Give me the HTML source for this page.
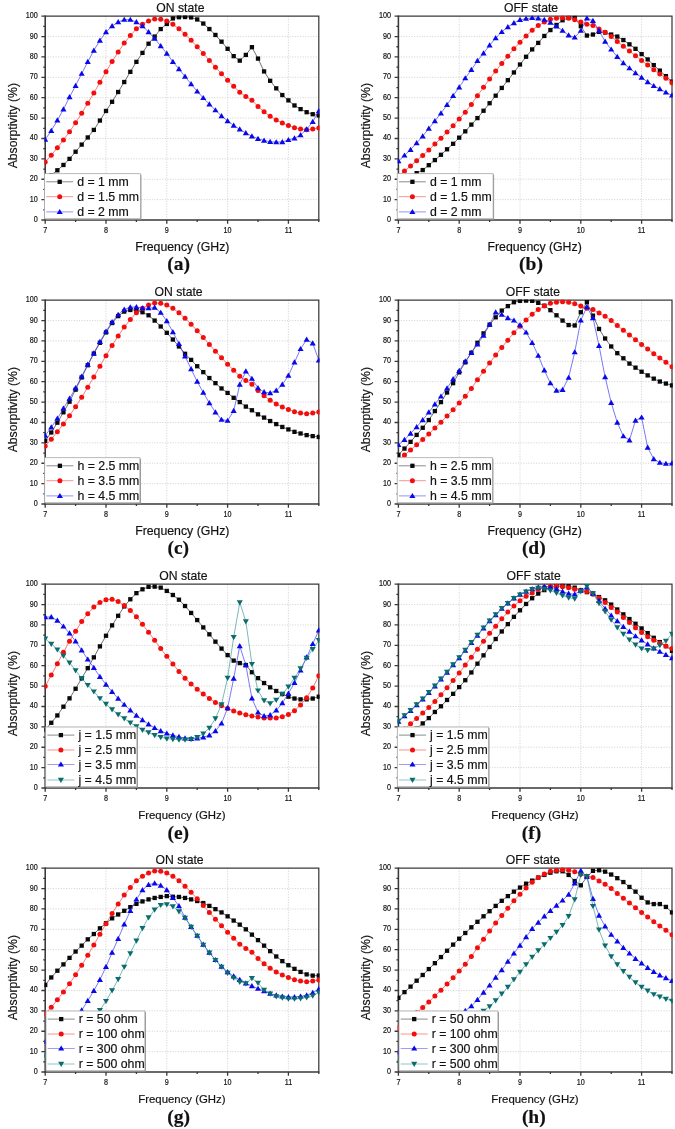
<!DOCTYPE html>
<html lang="en"><head><meta charset="utf-8"><title>Absorptivity parametric study</title>
<style>
html,body{margin:0;padding:0;background:#fff}
body{width:675px;height:1129px;overflow:hidden}
svg text{font-family:"Liberation Sans", Arial, sans-serif;stroke:#111;stroke-width:0.18px;paint-order:stroke}
svg{will-change:transform;opacity:0.999}
</style></head><body>
<svg width="675" height="1129" viewBox="0 0 675 1129" style="display:block">
<rect width="675" height="1129" fill="#fff"/>
<g>
<path d="M45.20 199.62H318.80M45.20 179.24H318.80M45.20 158.86H318.80M45.20 138.48H318.80M45.20 118.10H318.80M45.20 97.72H318.80M45.20 77.34H318.80M45.20 56.96H318.80M45.20 36.58H318.80M106.00 16.20V220.00M166.80 16.20V220.00M227.60 16.20V220.00M288.40 16.20V220.00" stroke="#c6c6c6" stroke-width="0.75" stroke-dasharray="1.1 1.5" fill="none"/>
<path d="M45.20 16.20H318.80V220.00" fill="none" stroke="#3a3a3a" stroke-width="1.25"/>
<path d="M45.20 15.60V220.00H319.40" fill="none" stroke="#383838" stroke-width="1.55"/>
<clipPath id="cp0"><path d="M44.40 15.40H319.60V220.80H46.20V173.70H44.40Z"/></clipPath>
<g clip-path="url(#cp0)">
<polyline points="45.20,180.26 51.28,175.16 57.36,170.27 63.44,164.97 69.52,158.86 75.60,151.73 81.68,144.59 87.76,137.46 93.84,129.92 99.92,120.55 106.00,110.97 112.08,101.80 118.16,92.01 124.24,82.03 130.32,71.84 136.40,61.85 142.48,52.88 148.56,43.71 154.64,36.58 160.72,29.04 166.80,23.94 172.88,18.44 178.96,17.22 185.04,17.02 191.12,17.42 197.20,19.46 203.28,23.54 209.36,29.04 215.44,34.95 221.52,41.67 227.60,48.81 233.68,56.14 239.76,60.63 245.84,54.92 251.92,47.18 258.00,58.59 264.08,71.43 270.16,80.80 276.24,88.35 282.32,95.07 288.40,100.37 294.48,105.46 300.56,109.13 306.64,112.19 312.72,114.23 318.80,115.45" fill="none" stroke="#222222" stroke-width="0.65"/>
<rect x="43.05" y="178.11" width="4.30" height="4.30" fill="#080808"/>
<rect x="49.13" y="173.01" width="4.30" height="4.30" fill="#080808"/>
<rect x="55.21" y="168.12" width="4.30" height="4.30" fill="#080808"/>
<rect x="61.29" y="162.82" width="4.30" height="4.30" fill="#080808"/>
<rect x="67.37" y="156.71" width="4.30" height="4.30" fill="#080808"/>
<rect x="73.45" y="149.58" width="4.30" height="4.30" fill="#080808"/>
<rect x="79.53" y="142.44" width="4.30" height="4.30" fill="#080808"/>
<rect x="85.61" y="135.31" width="4.30" height="4.30" fill="#080808"/>
<rect x="91.69" y="127.77" width="4.30" height="4.30" fill="#080808"/>
<rect x="97.77" y="118.40" width="4.30" height="4.30" fill="#080808"/>
<rect x="103.85" y="108.82" width="4.30" height="4.30" fill="#080808"/>
<rect x="109.93" y="99.65" width="4.30" height="4.30" fill="#080808"/>
<rect x="116.01" y="89.86" width="4.30" height="4.30" fill="#080808"/>
<rect x="122.09" y="79.88" width="4.30" height="4.30" fill="#080808"/>
<rect x="128.17" y="69.69" width="4.30" height="4.30" fill="#080808"/>
<rect x="134.25" y="59.70" width="4.30" height="4.30" fill="#080808"/>
<rect x="140.33" y="50.73" width="4.30" height="4.30" fill="#080808"/>
<rect x="146.41" y="41.56" width="4.30" height="4.30" fill="#080808"/>
<rect x="152.49" y="34.43" width="4.30" height="4.30" fill="#080808"/>
<rect x="158.57" y="26.89" width="4.30" height="4.30" fill="#080808"/>
<rect x="164.65" y="21.79" width="4.30" height="4.30" fill="#080808"/>
<rect x="170.73" y="16.29" width="4.30" height="4.30" fill="#080808"/>
<rect x="176.81" y="15.07" width="4.30" height="4.30" fill="#080808"/>
<rect x="182.89" y="14.87" width="4.30" height="4.30" fill="#080808"/>
<rect x="188.97" y="15.27" width="4.30" height="4.30" fill="#080808"/>
<rect x="195.05" y="17.31" width="4.30" height="4.30" fill="#080808"/>
<rect x="201.13" y="21.39" width="4.30" height="4.30" fill="#080808"/>
<rect x="207.21" y="26.89" width="4.30" height="4.30" fill="#080808"/>
<rect x="213.29" y="32.80" width="4.30" height="4.30" fill="#080808"/>
<rect x="219.37" y="39.52" width="4.30" height="4.30" fill="#080808"/>
<rect x="225.45" y="46.66" width="4.30" height="4.30" fill="#080808"/>
<rect x="231.53" y="53.99" width="4.30" height="4.30" fill="#080808"/>
<rect x="237.61" y="58.48" width="4.30" height="4.30" fill="#080808"/>
<rect x="243.69" y="52.77" width="4.30" height="4.30" fill="#080808"/>
<rect x="249.77" y="45.03" width="4.30" height="4.30" fill="#080808"/>
<rect x="255.85" y="56.44" width="4.30" height="4.30" fill="#080808"/>
<rect x="261.93" y="69.28" width="4.30" height="4.30" fill="#080808"/>
<rect x="268.01" y="78.65" width="4.30" height="4.30" fill="#080808"/>
<rect x="274.09" y="86.20" width="4.30" height="4.30" fill="#080808"/>
<rect x="280.17" y="92.92" width="4.30" height="4.30" fill="#080808"/>
<rect x="286.25" y="98.22" width="4.30" height="4.30" fill="#080808"/>
<rect x="292.33" y="103.31" width="4.30" height="4.30" fill="#080808"/>
<rect x="298.41" y="106.98" width="4.30" height="4.30" fill="#080808"/>
<rect x="304.49" y="110.04" width="4.30" height="4.30" fill="#080808"/>
<rect x="310.57" y="112.08" width="4.30" height="4.30" fill="#080808"/>
<rect x="316.65" y="113.30" width="4.30" height="4.30" fill="#080808"/>
<polyline points="45.20,161.92 51.28,155.19 57.36,147.85 63.44,139.91 69.52,131.75 75.60,122.79 81.68,113.21 87.76,103.22 93.84,93.03 99.92,82.23 106.00,71.63 112.08,61.44 118.16,52.07 124.24,43.10 130.32,35.56 136.40,28.84 142.48,24.35 148.56,20.89 154.64,19.05 160.72,19.26 166.80,20.89 172.88,24.35 178.96,28.84 185.04,34.34 191.12,40.25 197.20,46.77 203.28,53.50 209.36,60.42 215.44,67.15 221.52,73.67 227.60,80.19 233.68,86.31 239.76,92.22 245.84,96.50 251.92,100.17 258.00,106.48 264.08,111.78 270.16,116.27 276.24,119.93 282.32,122.99 288.40,125.44 294.48,127.68 300.56,129.11 306.64,129.72 312.72,129.11 318.80,127.88" fill="none" stroke="#f53535" stroke-width="0.65"/>
<circle cx="45.20" cy="161.92" r="2.50" fill="#f30e0e"/>
<circle cx="51.28" cy="155.19" r="2.50" fill="#f30e0e"/>
<circle cx="57.36" cy="147.85" r="2.50" fill="#f30e0e"/>
<circle cx="63.44" cy="139.91" r="2.50" fill="#f30e0e"/>
<circle cx="69.52" cy="131.75" r="2.50" fill="#f30e0e"/>
<circle cx="75.60" cy="122.79" r="2.50" fill="#f30e0e"/>
<circle cx="81.68" cy="113.21" r="2.50" fill="#f30e0e"/>
<circle cx="87.76" cy="103.22" r="2.50" fill="#f30e0e"/>
<circle cx="93.84" cy="93.03" r="2.50" fill="#f30e0e"/>
<circle cx="99.92" cy="82.23" r="2.50" fill="#f30e0e"/>
<circle cx="106.00" cy="71.63" r="2.50" fill="#f30e0e"/>
<circle cx="112.08" cy="61.44" r="2.50" fill="#f30e0e"/>
<circle cx="118.16" cy="52.07" r="2.50" fill="#f30e0e"/>
<circle cx="124.24" cy="43.10" r="2.50" fill="#f30e0e"/>
<circle cx="130.32" cy="35.56" r="2.50" fill="#f30e0e"/>
<circle cx="136.40" cy="28.84" r="2.50" fill="#f30e0e"/>
<circle cx="142.48" cy="24.35" r="2.50" fill="#f30e0e"/>
<circle cx="148.56" cy="20.89" r="2.50" fill="#f30e0e"/>
<circle cx="154.64" cy="19.05" r="2.50" fill="#f30e0e"/>
<circle cx="160.72" cy="19.26" r="2.50" fill="#f30e0e"/>
<circle cx="166.80" cy="20.89" r="2.50" fill="#f30e0e"/>
<circle cx="172.88" cy="24.35" r="2.50" fill="#f30e0e"/>
<circle cx="178.96" cy="28.84" r="2.50" fill="#f30e0e"/>
<circle cx="185.04" cy="34.34" r="2.50" fill="#f30e0e"/>
<circle cx="191.12" cy="40.25" r="2.50" fill="#f30e0e"/>
<circle cx="197.20" cy="46.77" r="2.50" fill="#f30e0e"/>
<circle cx="203.28" cy="53.50" r="2.50" fill="#f30e0e"/>
<circle cx="209.36" cy="60.42" r="2.50" fill="#f30e0e"/>
<circle cx="215.44" cy="67.15" r="2.50" fill="#f30e0e"/>
<circle cx="221.52" cy="73.67" r="2.50" fill="#f30e0e"/>
<circle cx="227.60" cy="80.19" r="2.50" fill="#f30e0e"/>
<circle cx="233.68" cy="86.31" r="2.50" fill="#f30e0e"/>
<circle cx="239.76" cy="92.22" r="2.50" fill="#f30e0e"/>
<circle cx="245.84" cy="96.50" r="2.50" fill="#f30e0e"/>
<circle cx="251.92" cy="100.17" r="2.50" fill="#f30e0e"/>
<circle cx="258.00" cy="106.48" r="2.50" fill="#f30e0e"/>
<circle cx="264.08" cy="111.78" r="2.50" fill="#f30e0e"/>
<circle cx="270.16" cy="116.27" r="2.50" fill="#f30e0e"/>
<circle cx="276.24" cy="119.93" r="2.50" fill="#f30e0e"/>
<circle cx="282.32" cy="122.99" r="2.50" fill="#f30e0e"/>
<circle cx="288.40" cy="125.44" r="2.50" fill="#f30e0e"/>
<circle cx="294.48" cy="127.68" r="2.50" fill="#f30e0e"/>
<circle cx="300.56" cy="129.11" r="2.50" fill="#f30e0e"/>
<circle cx="306.64" cy="129.72" r="2.50" fill="#f30e0e"/>
<circle cx="312.72" cy="129.11" r="2.50" fill="#f30e0e"/>
<circle cx="318.80" cy="127.88" r="2.50" fill="#f30e0e"/>
<polyline points="45.20,139.50 51.28,130.74 57.36,120.34 63.44,109.34 69.52,97.11 75.60,85.70 81.68,73.67 87.76,61.85 93.84,50.44 99.92,40.45 106.00,32.10 112.08,25.98 118.16,22.11 124.24,19.66 130.32,19.66 136.40,22.11 142.48,25.98 148.56,32.10 154.64,38.62 160.72,45.95 166.80,53.50 172.88,61.85 178.96,68.98 185.04,76.52 191.12,84.07 197.20,91.40 203.28,97.92 209.36,104.24 215.44,110.15 221.52,116.06 227.60,120.95 233.68,125.44 239.76,129.31 245.84,132.98 251.92,136.24 258.00,138.68 264.08,140.52 270.16,141.74 276.24,142.15 282.32,141.94 288.40,139.91 294.48,138.28 300.56,135.02 306.64,129.31 312.72,121.77 318.80,110.97" fill="none" stroke="#3030f0" stroke-width="0.65"/>
<path d="M42.15 141.70L48.25 141.70L45.20 136.50Z" fill="#0808ea"/>
<path d="M48.23 132.94L54.33 132.94L51.28 127.74Z" fill="#0808ea"/>
<path d="M54.31 122.54L60.41 122.54L57.36 117.34Z" fill="#0808ea"/>
<path d="M60.39 111.54L66.49 111.54L63.44 106.34Z" fill="#0808ea"/>
<path d="M66.47 99.31L72.57 99.31L69.52 94.11Z" fill="#0808ea"/>
<path d="M72.55 87.90L78.65 87.90L75.60 82.70Z" fill="#0808ea"/>
<path d="M78.63 75.87L84.73 75.87L81.68 70.67Z" fill="#0808ea"/>
<path d="M84.71 64.05L90.81 64.05L87.76 58.85Z" fill="#0808ea"/>
<path d="M90.79 52.64L96.89 52.64L93.84 47.44Z" fill="#0808ea"/>
<path d="M96.87 42.65L102.97 42.65L99.92 37.45Z" fill="#0808ea"/>
<path d="M102.95 34.30L109.05 34.30L106.00 29.10Z" fill="#0808ea"/>
<path d="M109.03 28.18L115.13 28.18L112.08 22.98Z" fill="#0808ea"/>
<path d="M115.11 24.31L121.21 24.31L118.16 19.11Z" fill="#0808ea"/>
<path d="M121.19 21.86L127.29 21.86L124.24 16.66Z" fill="#0808ea"/>
<path d="M127.27 21.86L133.37 21.86L130.32 16.66Z" fill="#0808ea"/>
<path d="M133.35 24.31L139.45 24.31L136.40 19.11Z" fill="#0808ea"/>
<path d="M139.43 28.18L145.53 28.18L142.48 22.98Z" fill="#0808ea"/>
<path d="M145.51 34.30L151.61 34.30L148.56 29.10Z" fill="#0808ea"/>
<path d="M151.59 40.82L157.69 40.82L154.64 35.62Z" fill="#0808ea"/>
<path d="M157.67 48.15L163.77 48.15L160.72 42.95Z" fill="#0808ea"/>
<path d="M163.75 55.70L169.85 55.70L166.80 50.50Z" fill="#0808ea"/>
<path d="M169.83 64.05L175.93 64.05L172.88 58.85Z" fill="#0808ea"/>
<path d="M175.91 71.18L182.01 71.18L178.96 65.98Z" fill="#0808ea"/>
<path d="M181.99 78.72L188.09 78.72L185.04 73.52Z" fill="#0808ea"/>
<path d="M188.07 86.27L194.17 86.27L191.12 81.07Z" fill="#0808ea"/>
<path d="M194.15 93.60L200.25 93.60L197.20 88.40Z" fill="#0808ea"/>
<path d="M200.23 100.12L206.33 100.12L203.28 94.92Z" fill="#0808ea"/>
<path d="M206.31 106.44L212.41 106.44L209.36 101.24Z" fill="#0808ea"/>
<path d="M212.39 112.35L218.49 112.35L215.44 107.15Z" fill="#0808ea"/>
<path d="M218.47 118.26L224.57 118.26L221.52 113.06Z" fill="#0808ea"/>
<path d="M224.55 123.15L230.65 123.15L227.60 117.95Z" fill="#0808ea"/>
<path d="M230.63 127.64L236.73 127.64L233.68 122.44Z" fill="#0808ea"/>
<path d="M236.71 131.51L242.81 131.51L239.76 126.31Z" fill="#0808ea"/>
<path d="M242.79 135.18L248.89 135.18L245.84 129.98Z" fill="#0808ea"/>
<path d="M248.87 138.44L254.97 138.44L251.92 133.24Z" fill="#0808ea"/>
<path d="M254.95 140.88L261.05 140.88L258.00 135.68Z" fill="#0808ea"/>
<path d="M261.03 142.72L267.13 142.72L264.08 137.52Z" fill="#0808ea"/>
<path d="M267.11 143.94L273.21 143.94L270.16 138.74Z" fill="#0808ea"/>
<path d="M273.19 144.35L279.29 144.35L276.24 139.15Z" fill="#0808ea"/>
<path d="M279.27 144.14L285.37 144.14L282.32 138.94Z" fill="#0808ea"/>
<path d="M285.35 142.11L291.45 142.11L288.40 136.91Z" fill="#0808ea"/>
<path d="M291.43 140.48L297.53 140.48L294.48 135.28Z" fill="#0808ea"/>
<path d="M297.51 137.22L303.61 137.22L300.56 132.02Z" fill="#0808ea"/>
<path d="M303.59 131.51L309.69 131.51L306.64 126.31Z" fill="#0808ea"/>
<path d="M309.67 123.97L315.77 123.97L312.72 118.77Z" fill="#0808ea"/>
<path d="M315.75 113.17L321.85 113.17L318.80 107.97Z" fill="#0808ea"/>
</g>
<path d="M45.20 220.00h-3.8M45.20 209.81h-2.0M45.20 199.62h-3.8M45.20 189.43h-2.0M45.20 179.24h-3.8M45.20 169.05h-2.0M45.20 158.86h-3.8M45.20 148.67h-2.0M45.20 138.48h-3.8M45.20 128.29h-2.0M45.20 118.10h-3.8M45.20 107.91h-2.0M45.20 97.72h-3.8M45.20 87.53h-2.0M45.20 77.34h-3.8M45.20 67.15h-2.0M45.20 56.96h-3.8M45.20 46.77h-2.0M45.20 36.58h-3.8M45.20 26.39h-2.0M45.20 16.20h-3.8M45.20 220.00v3.8M75.60 220.00v2.0M106.00 220.00v3.8M136.40 220.00v2.0M166.80 220.00v3.8M197.20 220.00v2.0M227.60 220.00v3.8M258.00 220.00v2.0M288.40 220.00v3.8M318.80 220.00v2.0" stroke="#383838" stroke-width="1.3" fill="none"/>
<text transform="translate(37.80 222.00) scale(0.87 1)" font-size="8.3" text-anchor="end" fill="#111">0</text>
<text transform="translate(37.80 201.62) scale(0.87 1)" font-size="8.3" text-anchor="end" fill="#111">10</text>
<text transform="translate(37.80 181.24) scale(0.87 1)" font-size="8.3" text-anchor="end" fill="#111">20</text>
<text transform="translate(37.80 160.86) scale(0.87 1)" font-size="8.3" text-anchor="end" fill="#111">30</text>
<text transform="translate(37.80 140.48) scale(0.87 1)" font-size="8.3" text-anchor="end" fill="#111">40</text>
<text transform="translate(37.80 120.10) scale(0.87 1)" font-size="8.3" text-anchor="end" fill="#111">50</text>
<text transform="translate(37.80 99.72) scale(0.87 1)" font-size="8.3" text-anchor="end" fill="#111">60</text>
<text transform="translate(37.80 79.34) scale(0.87 1)" font-size="8.3" text-anchor="end" fill="#111">70</text>
<text transform="translate(37.80 58.96) scale(0.87 1)" font-size="8.3" text-anchor="end" fill="#111">80</text>
<text transform="translate(37.80 38.58) scale(0.87 1)" font-size="8.3" text-anchor="end" fill="#111">90</text>
<text transform="translate(37.80 18.20) scale(0.87 1)" font-size="8.3" text-anchor="end" fill="#111">100</text>
<text transform="translate(45.20 232.70) scale(0.87 1)" font-size="8.3" text-anchor="middle" fill="#111">7</text>
<text transform="translate(106.00 232.70) scale(0.87 1)" font-size="8.3" text-anchor="middle" fill="#111">8</text>
<text transform="translate(166.80 232.70) scale(0.87 1)" font-size="8.3" text-anchor="middle" fill="#111">9</text>
<text transform="translate(227.60 232.70) scale(0.87 1)" font-size="8.3" text-anchor="middle" fill="#111">10</text>
<text transform="translate(288.40 232.70) scale(0.87 1)" font-size="8.3" text-anchor="middle" fill="#111">11</text>
<text x="180.40" y="12.20" font-size="12.2" text-anchor="middle" fill="#111">ON state</text>
<text x="182.30" y="250.80" font-size="12.3" text-anchor="middle" fill="#111">Frequency (GHz)</text>
<text transform="translate(16.60 125.70) rotate(-90)" font-size="12.2" text-anchor="middle" fill="#111">Absorptivity (%)</text>
<text x="178.70" y="270.40" font-size="19.5" font-weight="bold" style='font-family:"Liberation Serif", "Times New Roman", serif' text-anchor="middle" fill="#111">(a)</text>
<rect x="45.50" y="174.70" width="95.90" height="45.10" fill="#8c8c8c"/>
<rect x="44.50" y="173.70" width="95.90" height="45.10" fill="#fff" stroke="#a8a8a8" stroke-width="0.8"/>
<path d="M46.20 181.80h27" stroke="#222222" stroke-width="0.7" opacity="0.75"/>
<rect x="57.55" y="179.65" width="4.30" height="4.30" fill="#080808"/>
<text x="77.20" y="186.10" font-size="12.3" fill="#111">d = 1 mm</text>
<path d="M46.20 196.70h27" stroke="#f53535" stroke-width="0.7" opacity="0.75"/>
<circle cx="59.70" cy="196.70" r="2.50" fill="#f30e0e"/>
<text x="77.20" y="201.00" font-size="12.3" fill="#111">d = 1.5 mm</text>
<path d="M46.20 211.90h27" stroke="#3030f0" stroke-width="0.7" opacity="0.75"/>
<path d="M56.65 214.10L62.75 214.10L59.70 208.90Z" fill="#0808ea"/>
<text x="77.20" y="216.20" font-size="12.3" fill="#111">d = 2 mm</text>
</g>
<g>
<path d="M398.40 199.62H672.00M398.40 179.24H672.00M398.40 158.86H672.00M398.40 138.48H672.00M398.40 118.10H672.00M398.40 97.72H672.00M398.40 77.34H672.00M398.40 56.96H672.00M398.40 36.58H672.00M459.20 16.20V220.00M520.00 16.20V220.00M580.80 16.20V220.00M641.60 16.20V220.00" stroke="#c6c6c6" stroke-width="0.75" stroke-dasharray="1.1 1.5" fill="none"/>
<path d="M398.40 16.20H672.00V220.00" fill="none" stroke="#3a3a3a" stroke-width="1.25"/>
<path d="M398.40 15.60V220.00H672.60" fill="none" stroke="#383838" stroke-width="1.55"/>
<clipPath id="cp1"><path d="M397.60 15.40H672.80V220.80H399.40V173.70H397.60Z"/></clipPath>
<g clip-path="url(#cp1)">
<polyline points="398.40,185.35 404.48,181.28 410.56,177.20 416.64,173.13 422.72,170.07 428.80,165.18 434.88,160.08 440.96,154.78 447.04,149.28 453.12,143.78 459.20,137.66 465.28,131.35 471.36,124.62 477.44,118.10 483.52,110.76 489.60,103.22 495.68,95.68 501.76,87.94 507.84,80.19 513.92,72.45 520.00,64.50 526.08,56.76 532.16,49.42 538.24,42.90 544.32,35.97 550.40,30.06 556.48,24.96 562.56,20.28 568.64,17.83 574.72,17.83 580.80,26.19 586.88,35.56 592.96,34.54 599.04,31.89 605.12,32.50 611.20,34.54 617.28,36.58 623.36,40.04 629.44,44.32 635.52,48.81 641.60,54.11 647.68,59.41 653.76,65.11 659.84,70.61 665.92,76.12 672.00,81.62" fill="none" stroke="#222222" stroke-width="0.65"/>
<rect x="396.25" y="183.20" width="4.30" height="4.30" fill="#080808"/>
<rect x="402.33" y="179.13" width="4.30" height="4.30" fill="#080808"/>
<rect x="408.41" y="175.05" width="4.30" height="4.30" fill="#080808"/>
<rect x="414.49" y="170.98" width="4.30" height="4.30" fill="#080808"/>
<rect x="420.57" y="167.92" width="4.30" height="4.30" fill="#080808"/>
<rect x="426.65" y="163.03" width="4.30" height="4.30" fill="#080808"/>
<rect x="432.73" y="157.93" width="4.30" height="4.30" fill="#080808"/>
<rect x="438.81" y="152.63" width="4.30" height="4.30" fill="#080808"/>
<rect x="444.89" y="147.13" width="4.30" height="4.30" fill="#080808"/>
<rect x="450.97" y="141.63" width="4.30" height="4.30" fill="#080808"/>
<rect x="457.05" y="135.51" width="4.30" height="4.30" fill="#080808"/>
<rect x="463.13" y="129.20" width="4.30" height="4.30" fill="#080808"/>
<rect x="469.21" y="122.47" width="4.30" height="4.30" fill="#080808"/>
<rect x="475.29" y="115.95" width="4.30" height="4.30" fill="#080808"/>
<rect x="481.37" y="108.61" width="4.30" height="4.30" fill="#080808"/>
<rect x="487.45" y="101.07" width="4.30" height="4.30" fill="#080808"/>
<rect x="493.53" y="93.53" width="4.30" height="4.30" fill="#080808"/>
<rect x="499.61" y="85.79" width="4.30" height="4.30" fill="#080808"/>
<rect x="505.69" y="78.04" width="4.30" height="4.30" fill="#080808"/>
<rect x="511.77" y="70.30" width="4.30" height="4.30" fill="#080808"/>
<rect x="517.85" y="62.35" width="4.30" height="4.30" fill="#080808"/>
<rect x="523.93" y="54.61" width="4.30" height="4.30" fill="#080808"/>
<rect x="530.01" y="47.27" width="4.30" height="4.30" fill="#080808"/>
<rect x="536.09" y="40.75" width="4.30" height="4.30" fill="#080808"/>
<rect x="542.17" y="33.82" width="4.30" height="4.30" fill="#080808"/>
<rect x="548.25" y="27.91" width="4.30" height="4.30" fill="#080808"/>
<rect x="554.33" y="22.81" width="4.30" height="4.30" fill="#080808"/>
<rect x="560.41" y="18.13" width="4.30" height="4.30" fill="#080808"/>
<rect x="566.49" y="15.68" width="4.30" height="4.30" fill="#080808"/>
<rect x="572.57" y="15.68" width="4.30" height="4.30" fill="#080808"/>
<rect x="578.65" y="24.04" width="4.30" height="4.30" fill="#080808"/>
<rect x="584.73" y="33.41" width="4.30" height="4.30" fill="#080808"/>
<rect x="590.81" y="32.39" width="4.30" height="4.30" fill="#080808"/>
<rect x="596.89" y="29.74" width="4.30" height="4.30" fill="#080808"/>
<rect x="602.97" y="30.35" width="4.30" height="4.30" fill="#080808"/>
<rect x="609.05" y="32.39" width="4.30" height="4.30" fill="#080808"/>
<rect x="615.13" y="34.43" width="4.30" height="4.30" fill="#080808"/>
<rect x="621.21" y="37.89" width="4.30" height="4.30" fill="#080808"/>
<rect x="627.29" y="42.17" width="4.30" height="4.30" fill="#080808"/>
<rect x="633.37" y="46.66" width="4.30" height="4.30" fill="#080808"/>
<rect x="639.45" y="51.96" width="4.30" height="4.30" fill="#080808"/>
<rect x="645.53" y="57.26" width="4.30" height="4.30" fill="#080808"/>
<rect x="651.61" y="62.96" width="4.30" height="4.30" fill="#080808"/>
<rect x="657.69" y="68.46" width="4.30" height="4.30" fill="#080808"/>
<rect x="663.77" y="73.97" width="4.30" height="4.30" fill="#080808"/>
<rect x="669.85" y="79.47" width="4.30" height="4.30" fill="#080808"/>
<polyline points="398.40,175.78 404.48,171.09 410.56,165.99 416.64,160.69 422.72,155.40 428.80,150.10 434.88,143.98 440.96,138.28 447.04,131.96 453.12,125.84 459.20,119.12 465.28,112.19 471.36,104.45 477.44,95.68 483.52,87.33 489.60,78.97 495.68,71.02 501.76,63.48 507.84,56.14 513.92,48.81 520.00,42.29 526.08,35.97 532.16,30.26 538.24,25.57 544.32,22.11 550.40,19.26 556.48,18.24 562.56,17.83 568.64,18.24 574.72,19.66 580.80,22.11 586.88,24.15 592.96,25.57 599.04,29.04 605.12,32.30 611.20,36.58 617.28,41.47 623.36,46.36 629.44,51.05 635.52,55.74 641.60,60.42 647.68,65.11 653.76,69.80 659.84,74.08 665.92,78.16 672.00,82.84" fill="none" stroke="#f53535" stroke-width="0.65"/>
<circle cx="398.40" cy="175.78" r="2.50" fill="#f30e0e"/>
<circle cx="404.48" cy="171.09" r="2.50" fill="#f30e0e"/>
<circle cx="410.56" cy="165.99" r="2.50" fill="#f30e0e"/>
<circle cx="416.64" cy="160.69" r="2.50" fill="#f30e0e"/>
<circle cx="422.72" cy="155.40" r="2.50" fill="#f30e0e"/>
<circle cx="428.80" cy="150.10" r="2.50" fill="#f30e0e"/>
<circle cx="434.88" cy="143.98" r="2.50" fill="#f30e0e"/>
<circle cx="440.96" cy="138.28" r="2.50" fill="#f30e0e"/>
<circle cx="447.04" cy="131.96" r="2.50" fill="#f30e0e"/>
<circle cx="453.12" cy="125.84" r="2.50" fill="#f30e0e"/>
<circle cx="459.20" cy="119.12" r="2.50" fill="#f30e0e"/>
<circle cx="465.28" cy="112.19" r="2.50" fill="#f30e0e"/>
<circle cx="471.36" cy="104.45" r="2.50" fill="#f30e0e"/>
<circle cx="477.44" cy="95.68" r="2.50" fill="#f30e0e"/>
<circle cx="483.52" cy="87.33" r="2.50" fill="#f30e0e"/>
<circle cx="489.60" cy="78.97" r="2.50" fill="#f30e0e"/>
<circle cx="495.68" cy="71.02" r="2.50" fill="#f30e0e"/>
<circle cx="501.76" cy="63.48" r="2.50" fill="#f30e0e"/>
<circle cx="507.84" cy="56.14" r="2.50" fill="#f30e0e"/>
<circle cx="513.92" cy="48.81" r="2.50" fill="#f30e0e"/>
<circle cx="520.00" cy="42.29" r="2.50" fill="#f30e0e"/>
<circle cx="526.08" cy="35.97" r="2.50" fill="#f30e0e"/>
<circle cx="532.16" cy="30.26" r="2.50" fill="#f30e0e"/>
<circle cx="538.24" cy="25.57" r="2.50" fill="#f30e0e"/>
<circle cx="544.32" cy="22.11" r="2.50" fill="#f30e0e"/>
<circle cx="550.40" cy="19.26" r="2.50" fill="#f30e0e"/>
<circle cx="556.48" cy="18.24" r="2.50" fill="#f30e0e"/>
<circle cx="562.56" cy="17.83" r="2.50" fill="#f30e0e"/>
<circle cx="568.64" cy="18.24" r="2.50" fill="#f30e0e"/>
<circle cx="574.72" cy="19.66" r="2.50" fill="#f30e0e"/>
<circle cx="580.80" cy="22.11" r="2.50" fill="#f30e0e"/>
<circle cx="586.88" cy="24.15" r="2.50" fill="#f30e0e"/>
<circle cx="592.96" cy="25.57" r="2.50" fill="#f30e0e"/>
<circle cx="599.04" cy="29.04" r="2.50" fill="#f30e0e"/>
<circle cx="605.12" cy="32.30" r="2.50" fill="#f30e0e"/>
<circle cx="611.20" cy="36.58" r="2.50" fill="#f30e0e"/>
<circle cx="617.28" cy="41.47" r="2.50" fill="#f30e0e"/>
<circle cx="623.36" cy="46.36" r="2.50" fill="#f30e0e"/>
<circle cx="629.44" cy="51.05" r="2.50" fill="#f30e0e"/>
<circle cx="635.52" cy="55.74" r="2.50" fill="#f30e0e"/>
<circle cx="641.60" cy="60.42" r="2.50" fill="#f30e0e"/>
<circle cx="647.68" cy="65.11" r="2.50" fill="#f30e0e"/>
<circle cx="653.76" cy="69.80" r="2.50" fill="#f30e0e"/>
<circle cx="659.84" cy="74.08" r="2.50" fill="#f30e0e"/>
<circle cx="665.92" cy="78.16" r="2.50" fill="#f30e0e"/>
<circle cx="672.00" cy="82.84" r="2.50" fill="#f30e0e"/>
<polyline points="398.40,161.10 404.48,155.40 410.56,149.69 416.64,142.96 422.72,136.24 428.80,128.49 434.88,120.95 440.96,113.21 447.04,104.85 453.12,95.68 459.20,87.33 465.28,78.16 471.36,69.80 477.44,60.83 483.52,53.29 489.60,45.34 495.68,38.01 501.76,31.89 507.84,27.00 513.92,22.93 520.00,19.87 526.08,18.65 532.16,17.83 538.24,18.24 544.32,19.66 550.40,22.52 556.48,26.19 562.56,30.67 568.64,35.36 574.72,37.40 580.80,30.67 586.88,18.24 592.96,20.68 599.04,30.67 605.12,41.47 611.20,49.42 617.28,56.76 623.36,63.07 629.44,68.17 635.52,73.06 641.60,77.54 647.68,82.03 653.76,85.90 659.84,88.96 665.92,92.42 672.00,95.27" fill="none" stroke="#3030f0" stroke-width="0.65"/>
<path d="M395.35 163.30L401.45 163.30L398.40 158.10Z" fill="#0808ea"/>
<path d="M401.43 157.60L407.53 157.60L404.48 152.40Z" fill="#0808ea"/>
<path d="M407.51 151.89L413.61 151.89L410.56 146.69Z" fill="#0808ea"/>
<path d="M413.59 145.16L419.69 145.16L416.64 139.96Z" fill="#0808ea"/>
<path d="M419.67 138.44L425.77 138.44L422.72 133.24Z" fill="#0808ea"/>
<path d="M425.75 130.69L431.85 130.69L428.80 125.49Z" fill="#0808ea"/>
<path d="M431.83 123.15L437.93 123.15L434.88 117.95Z" fill="#0808ea"/>
<path d="M437.91 115.41L444.01 115.41L440.96 110.21Z" fill="#0808ea"/>
<path d="M443.99 107.05L450.09 107.05L447.04 101.85Z" fill="#0808ea"/>
<path d="M450.07 97.88L456.17 97.88L453.12 92.68Z" fill="#0808ea"/>
<path d="M456.15 89.53L462.25 89.53L459.20 84.33Z" fill="#0808ea"/>
<path d="M462.23 80.36L468.33 80.36L465.28 75.16Z" fill="#0808ea"/>
<path d="M468.31 72.00L474.41 72.00L471.36 66.80Z" fill="#0808ea"/>
<path d="M474.39 63.03L480.49 63.03L477.44 57.83Z" fill="#0808ea"/>
<path d="M480.47 55.49L486.57 55.49L483.52 50.29Z" fill="#0808ea"/>
<path d="M486.55 47.54L492.65 47.54L489.60 42.34Z" fill="#0808ea"/>
<path d="M492.63 40.21L498.73 40.21L495.68 35.01Z" fill="#0808ea"/>
<path d="M498.71 34.09L504.81 34.09L501.76 28.89Z" fill="#0808ea"/>
<path d="M504.79 29.20L510.89 29.20L507.84 24.00Z" fill="#0808ea"/>
<path d="M510.87 25.13L516.97 25.13L513.92 19.93Z" fill="#0808ea"/>
<path d="M516.95 22.07L523.05 22.07L520.00 16.87Z" fill="#0808ea"/>
<path d="M523.03 20.85L529.13 20.85L526.08 15.65Z" fill="#0808ea"/>
<path d="M529.11 20.03L535.21 20.03L532.16 14.83Z" fill="#0808ea"/>
<path d="M535.19 20.44L541.29 20.44L538.24 15.24Z" fill="#0808ea"/>
<path d="M541.27 21.86L547.37 21.86L544.32 16.66Z" fill="#0808ea"/>
<path d="M547.35 24.72L553.45 24.72L550.40 19.52Z" fill="#0808ea"/>
<path d="M553.43 28.39L559.53 28.39L556.48 23.19Z" fill="#0808ea"/>
<path d="M559.51 32.87L565.61 32.87L562.56 27.67Z" fill="#0808ea"/>
<path d="M565.59 37.56L571.69 37.56L568.64 32.36Z" fill="#0808ea"/>
<path d="M571.67 39.60L577.77 39.60L574.72 34.40Z" fill="#0808ea"/>
<path d="M577.75 32.87L583.85 32.87L580.80 27.67Z" fill="#0808ea"/>
<path d="M583.83 20.44L589.93 20.44L586.88 15.24Z" fill="#0808ea"/>
<path d="M589.91 22.88L596.01 22.88L592.96 17.68Z" fill="#0808ea"/>
<path d="M595.99 32.87L602.09 32.87L599.04 27.67Z" fill="#0808ea"/>
<path d="M602.07 43.67L608.17 43.67L605.12 38.47Z" fill="#0808ea"/>
<path d="M608.15 51.62L614.25 51.62L611.20 46.42Z" fill="#0808ea"/>
<path d="M614.23 58.96L620.33 58.96L617.28 53.76Z" fill="#0808ea"/>
<path d="M620.31 65.27L626.41 65.27L623.36 60.07Z" fill="#0808ea"/>
<path d="M626.39 70.37L632.49 70.37L629.44 65.17Z" fill="#0808ea"/>
<path d="M632.47 75.26L638.57 75.26L635.52 70.06Z" fill="#0808ea"/>
<path d="M638.55 79.74L644.65 79.74L641.60 74.54Z" fill="#0808ea"/>
<path d="M644.63 84.23L650.73 84.23L647.68 79.03Z" fill="#0808ea"/>
<path d="M650.71 88.10L656.81 88.10L653.76 82.90Z" fill="#0808ea"/>
<path d="M656.79 91.16L662.89 91.16L659.84 85.96Z" fill="#0808ea"/>
<path d="M662.87 94.62L668.97 94.62L665.92 89.42Z" fill="#0808ea"/>
<path d="M668.95 97.47L675.05 97.47L672.00 92.27Z" fill="#0808ea"/>
</g>
<path d="M398.40 220.00h-3.8M398.40 209.81h-2.0M398.40 199.62h-3.8M398.40 189.43h-2.0M398.40 179.24h-3.8M398.40 169.05h-2.0M398.40 158.86h-3.8M398.40 148.67h-2.0M398.40 138.48h-3.8M398.40 128.29h-2.0M398.40 118.10h-3.8M398.40 107.91h-2.0M398.40 97.72h-3.8M398.40 87.53h-2.0M398.40 77.34h-3.8M398.40 67.15h-2.0M398.40 56.96h-3.8M398.40 46.77h-2.0M398.40 36.58h-3.8M398.40 26.39h-2.0M398.40 16.20h-3.8M398.40 220.00v3.8M428.80 220.00v2.0M459.20 220.00v3.8M489.60 220.00v2.0M520.00 220.00v3.8M550.40 220.00v2.0M580.80 220.00v3.8M611.20 220.00v2.0M641.60 220.00v3.8M672.00 220.00v2.0" stroke="#383838" stroke-width="1.3" fill="none"/>
<text transform="translate(391.00 222.00) scale(0.87 1)" font-size="8.3" text-anchor="end" fill="#111">0</text>
<text transform="translate(391.00 201.62) scale(0.87 1)" font-size="8.3" text-anchor="end" fill="#111">10</text>
<text transform="translate(391.00 181.24) scale(0.87 1)" font-size="8.3" text-anchor="end" fill="#111">20</text>
<text transform="translate(391.00 160.86) scale(0.87 1)" font-size="8.3" text-anchor="end" fill="#111">30</text>
<text transform="translate(391.00 140.48) scale(0.87 1)" font-size="8.3" text-anchor="end" fill="#111">40</text>
<text transform="translate(391.00 120.10) scale(0.87 1)" font-size="8.3" text-anchor="end" fill="#111">50</text>
<text transform="translate(391.00 99.72) scale(0.87 1)" font-size="8.3" text-anchor="end" fill="#111">60</text>
<text transform="translate(391.00 79.34) scale(0.87 1)" font-size="8.3" text-anchor="end" fill="#111">70</text>
<text transform="translate(391.00 58.96) scale(0.87 1)" font-size="8.3" text-anchor="end" fill="#111">80</text>
<text transform="translate(391.00 38.58) scale(0.87 1)" font-size="8.3" text-anchor="end" fill="#111">90</text>
<text transform="translate(391.00 18.20) scale(0.87 1)" font-size="8.3" text-anchor="end" fill="#111">100</text>
<text transform="translate(398.40 232.70) scale(0.87 1)" font-size="8.3" text-anchor="middle" fill="#111">7</text>
<text transform="translate(459.20 232.70) scale(0.87 1)" font-size="8.3" text-anchor="middle" fill="#111">8</text>
<text transform="translate(520.00 232.70) scale(0.87 1)" font-size="8.3" text-anchor="middle" fill="#111">9</text>
<text transform="translate(580.80 232.70) scale(0.87 1)" font-size="8.3" text-anchor="middle" fill="#111">10</text>
<text transform="translate(641.60 232.70) scale(0.87 1)" font-size="8.3" text-anchor="middle" fill="#111">11</text>
<text x="531.00" y="12.20" font-size="12.2" text-anchor="middle" fill="#111">OFF state</text>
<text x="534.60" y="250.80" font-size="12.3" text-anchor="middle" fill="#111">Frequency (GHz)</text>
<text transform="translate(369.80 125.70) rotate(-90)" font-size="12.2" text-anchor="middle" fill="#111">Absorptivity (%)</text>
<text x="531.00" y="270.40" font-size="19.5" font-weight="bold" style='font-family:"Liberation Serif", "Times New Roman", serif' text-anchor="middle" fill="#111">(b)</text>
<rect x="398.20" y="174.70" width="95.90" height="45.10" fill="#8c8c8c"/>
<rect x="397.20" y="173.70" width="95.90" height="45.10" fill="#fff" stroke="#a8a8a8" stroke-width="0.8"/>
<path d="M398.90 181.80h27" stroke="#222222" stroke-width="0.7" opacity="0.75"/>
<rect x="410.25" y="179.65" width="4.30" height="4.30" fill="#080808"/>
<text x="429.90" y="186.10" font-size="12.3" fill="#111">d = 1 mm</text>
<path d="M398.90 196.70h27" stroke="#f53535" stroke-width="0.7" opacity="0.75"/>
<circle cx="412.40" cy="196.70" r="2.50" fill="#f30e0e"/>
<text x="429.90" y="201.00" font-size="12.3" fill="#111">d = 1.5 mm</text>
<path d="M398.90 211.90h27" stroke="#3030f0" stroke-width="0.7" opacity="0.75"/>
<path d="M409.35 214.10L415.45 214.10L412.40 208.90Z" fill="#0808ea"/>
<text x="429.90" y="216.20" font-size="12.3" fill="#111">d = 2 mm</text>
</g>
<g>
<path d="M45.20 483.62H318.80M45.20 463.24H318.80M45.20 442.86H318.80M45.20 422.48H318.80M45.20 402.10H318.80M45.20 381.72H318.80M45.20 361.34H318.80M45.20 340.96H318.80M45.20 320.58H318.80M106.00 300.20V504.00M166.80 300.20V504.00M227.60 300.20V504.00M288.40 300.20V504.00" stroke="#c6c6c6" stroke-width="0.75" stroke-dasharray="1.1 1.5" fill="none"/>
<path d="M45.20 300.20H318.80V504.00" fill="none" stroke="#3a3a3a" stroke-width="1.25"/>
<path d="M45.20 299.60V504.00H319.40" fill="none" stroke="#383838" stroke-width="1.55"/>
<clipPath id="cp2"><path d="M44.40 299.40H319.60V504.80H46.20V457.70H44.40Z"/></clipPath>
<g clip-path="url(#cp2)">
<polyline points="45.20,440.82 51.28,432.47 57.36,422.68 63.44,412.29 69.52,401.69 75.60,389.67 81.68,377.44 87.76,365.21 93.84,353.60 99.92,342.79 106.00,332.40 112.08,323.03 118.16,316.10 124.24,311.61 130.32,309.98 136.40,310.19 142.48,312.22 148.56,315.28 154.64,320.58 160.72,326.49 166.80,332.81 172.88,339.53 178.96,346.46 185.04,353.80 191.12,359.91 197.20,366.23 203.28,372.14 209.36,378.05 215.44,383.15 221.52,388.45 227.60,392.93 233.68,397.82 239.76,402.10 245.84,406.58 251.92,410.25 258.00,414.33 264.08,417.59 270.16,421.05 276.24,424.11 282.32,426.96 288.40,429.41 294.48,431.85 300.56,433.49 306.64,435.12 312.72,436.13 318.80,436.95" fill="none" stroke="#222222" stroke-width="0.65"/>
<rect x="43.05" y="438.67" width="4.30" height="4.30" fill="#080808"/>
<rect x="49.13" y="430.32" width="4.30" height="4.30" fill="#080808"/>
<rect x="55.21" y="420.53" width="4.30" height="4.30" fill="#080808"/>
<rect x="61.29" y="410.14" width="4.30" height="4.30" fill="#080808"/>
<rect x="67.37" y="399.54" width="4.30" height="4.30" fill="#080808"/>
<rect x="73.45" y="387.52" width="4.30" height="4.30" fill="#080808"/>
<rect x="79.53" y="375.29" width="4.30" height="4.30" fill="#080808"/>
<rect x="85.61" y="363.06" width="4.30" height="4.30" fill="#080808"/>
<rect x="91.69" y="351.45" width="4.30" height="4.30" fill="#080808"/>
<rect x="97.77" y="340.64" width="4.30" height="4.30" fill="#080808"/>
<rect x="103.85" y="330.25" width="4.30" height="4.30" fill="#080808"/>
<rect x="109.93" y="320.88" width="4.30" height="4.30" fill="#080808"/>
<rect x="116.01" y="313.95" width="4.30" height="4.30" fill="#080808"/>
<rect x="122.09" y="309.46" width="4.30" height="4.30" fill="#080808"/>
<rect x="128.17" y="307.83" width="4.30" height="4.30" fill="#080808"/>
<rect x="134.25" y="308.04" width="4.30" height="4.30" fill="#080808"/>
<rect x="140.33" y="310.07" width="4.30" height="4.30" fill="#080808"/>
<rect x="146.41" y="313.13" width="4.30" height="4.30" fill="#080808"/>
<rect x="152.49" y="318.43" width="4.30" height="4.30" fill="#080808"/>
<rect x="158.57" y="324.34" width="4.30" height="4.30" fill="#080808"/>
<rect x="164.65" y="330.66" width="4.30" height="4.30" fill="#080808"/>
<rect x="170.73" y="337.38" width="4.30" height="4.30" fill="#080808"/>
<rect x="176.81" y="344.31" width="4.30" height="4.30" fill="#080808"/>
<rect x="182.89" y="351.65" width="4.30" height="4.30" fill="#080808"/>
<rect x="188.97" y="357.76" width="4.30" height="4.30" fill="#080808"/>
<rect x="195.05" y="364.08" width="4.30" height="4.30" fill="#080808"/>
<rect x="201.13" y="369.99" width="4.30" height="4.30" fill="#080808"/>
<rect x="207.21" y="375.90" width="4.30" height="4.30" fill="#080808"/>
<rect x="213.29" y="381.00" width="4.30" height="4.30" fill="#080808"/>
<rect x="219.37" y="386.30" width="4.30" height="4.30" fill="#080808"/>
<rect x="225.45" y="390.78" width="4.30" height="4.30" fill="#080808"/>
<rect x="231.53" y="395.67" width="4.30" height="4.30" fill="#080808"/>
<rect x="237.61" y="399.95" width="4.30" height="4.30" fill="#080808"/>
<rect x="243.69" y="404.43" width="4.30" height="4.30" fill="#080808"/>
<rect x="249.77" y="408.10" width="4.30" height="4.30" fill="#080808"/>
<rect x="255.85" y="412.18" width="4.30" height="4.30" fill="#080808"/>
<rect x="261.93" y="415.44" width="4.30" height="4.30" fill="#080808"/>
<rect x="268.01" y="418.90" width="4.30" height="4.30" fill="#080808"/>
<rect x="274.09" y="421.96" width="4.30" height="4.30" fill="#080808"/>
<rect x="280.17" y="424.81" width="4.30" height="4.30" fill="#080808"/>
<rect x="286.25" y="427.26" width="4.30" height="4.30" fill="#080808"/>
<rect x="292.33" y="429.70" width="4.30" height="4.30" fill="#080808"/>
<rect x="298.41" y="431.34" width="4.30" height="4.30" fill="#080808"/>
<rect x="304.49" y="432.97" width="4.30" height="4.30" fill="#080808"/>
<rect x="310.57" y="433.98" width="4.30" height="4.30" fill="#080808"/>
<rect x="316.65" y="434.80" width="4.30" height="4.30" fill="#080808"/>
<polyline points="45.20,445.92 51.28,439.19 57.36,431.85 63.44,423.91 69.52,415.75 75.60,406.79 81.68,397.21 87.76,387.22 93.84,377.03 99.92,366.23 106.00,355.63 112.08,345.44 118.16,336.07 124.24,327.10 130.32,319.56 136.40,312.84 142.48,308.35 148.56,304.89 154.64,303.05 160.72,303.26 166.80,304.89 172.88,308.35 178.96,312.84 185.04,318.34 191.12,324.25 197.20,330.77 203.28,337.50 209.36,344.42 215.44,351.15 221.52,357.67 227.60,364.19 233.68,370.31 239.76,376.22 245.84,380.50 251.92,384.17 258.00,390.48 264.08,395.78 270.16,400.27 276.24,403.93 282.32,406.99 288.40,409.44 294.48,411.68 300.56,413.11 306.64,413.72 312.72,413.11 318.80,411.88" fill="none" stroke="#f53535" stroke-width="0.65"/>
<circle cx="45.20" cy="445.92" r="2.50" fill="#f30e0e"/>
<circle cx="51.28" cy="439.19" r="2.50" fill="#f30e0e"/>
<circle cx="57.36" cy="431.85" r="2.50" fill="#f30e0e"/>
<circle cx="63.44" cy="423.91" r="2.50" fill="#f30e0e"/>
<circle cx="69.52" cy="415.75" r="2.50" fill="#f30e0e"/>
<circle cx="75.60" cy="406.79" r="2.50" fill="#f30e0e"/>
<circle cx="81.68" cy="397.21" r="2.50" fill="#f30e0e"/>
<circle cx="87.76" cy="387.22" r="2.50" fill="#f30e0e"/>
<circle cx="93.84" cy="377.03" r="2.50" fill="#f30e0e"/>
<circle cx="99.92" cy="366.23" r="2.50" fill="#f30e0e"/>
<circle cx="106.00" cy="355.63" r="2.50" fill="#f30e0e"/>
<circle cx="112.08" cy="345.44" r="2.50" fill="#f30e0e"/>
<circle cx="118.16" cy="336.07" r="2.50" fill="#f30e0e"/>
<circle cx="124.24" cy="327.10" r="2.50" fill="#f30e0e"/>
<circle cx="130.32" cy="319.56" r="2.50" fill="#f30e0e"/>
<circle cx="136.40" cy="312.84" r="2.50" fill="#f30e0e"/>
<circle cx="142.48" cy="308.35" r="2.50" fill="#f30e0e"/>
<circle cx="148.56" cy="304.89" r="2.50" fill="#f30e0e"/>
<circle cx="154.64" cy="303.05" r="2.50" fill="#f30e0e"/>
<circle cx="160.72" cy="303.26" r="2.50" fill="#f30e0e"/>
<circle cx="166.80" cy="304.89" r="2.50" fill="#f30e0e"/>
<circle cx="172.88" cy="308.35" r="2.50" fill="#f30e0e"/>
<circle cx="178.96" cy="312.84" r="2.50" fill="#f30e0e"/>
<circle cx="185.04" cy="318.34" r="2.50" fill="#f30e0e"/>
<circle cx="191.12" cy="324.25" r="2.50" fill="#f30e0e"/>
<circle cx="197.20" cy="330.77" r="2.50" fill="#f30e0e"/>
<circle cx="203.28" cy="337.50" r="2.50" fill="#f30e0e"/>
<circle cx="209.36" cy="344.42" r="2.50" fill="#f30e0e"/>
<circle cx="215.44" cy="351.15" r="2.50" fill="#f30e0e"/>
<circle cx="221.52" cy="357.67" r="2.50" fill="#f30e0e"/>
<circle cx="227.60" cy="364.19" r="2.50" fill="#f30e0e"/>
<circle cx="233.68" cy="370.31" r="2.50" fill="#f30e0e"/>
<circle cx="239.76" cy="376.22" r="2.50" fill="#f30e0e"/>
<circle cx="245.84" cy="380.50" r="2.50" fill="#f30e0e"/>
<circle cx="251.92" cy="384.17" r="2.50" fill="#f30e0e"/>
<circle cx="258.00" cy="390.48" r="2.50" fill="#f30e0e"/>
<circle cx="264.08" cy="395.78" r="2.50" fill="#f30e0e"/>
<circle cx="270.16" cy="400.27" r="2.50" fill="#f30e0e"/>
<circle cx="276.24" cy="403.93" r="2.50" fill="#f30e0e"/>
<circle cx="282.32" cy="406.99" r="2.50" fill="#f30e0e"/>
<circle cx="288.40" cy="409.44" r="2.50" fill="#f30e0e"/>
<circle cx="294.48" cy="411.68" r="2.50" fill="#f30e0e"/>
<circle cx="300.56" cy="413.11" r="2.50" fill="#f30e0e"/>
<circle cx="306.64" cy="413.72" r="2.50" fill="#f30e0e"/>
<circle cx="312.72" cy="413.11" r="2.50" fill="#f30e0e"/>
<circle cx="318.80" cy="411.88" r="2.50" fill="#f30e0e"/>
<polyline points="45.20,435.52 51.28,427.37 57.36,418.61 63.44,408.42 69.52,398.43 75.60,388.04 81.68,376.42 87.76,364.60 93.84,353.19 99.92,341.78 106.00,331.38 112.08,322.01 118.16,314.67 124.24,309.57 130.32,307.13 136.40,306.93 142.48,308.15 148.56,308.15 154.64,307.54 160.72,312.63 166.80,320.99 172.88,331.99 178.96,343.81 185.04,356.25 191.12,369.08 197.20,381.52 203.28,392.52 209.36,403.12 215.44,412.29 221.52,419.63 227.60,420.65 233.68,410.86 239.76,384.57 245.84,371.33 251.92,378.66 258.00,388.04 264.08,392.11 270.16,392.93 276.24,390.48 282.32,384.57 288.40,375.61 294.48,362.36 300.56,348.91 306.64,339.53 312.72,343.20 318.80,360.32" fill="none" stroke="#3030f0" stroke-width="0.65"/>
<path d="M42.15 437.72L48.25 437.72L45.20 432.52Z" fill="#0808ea"/>
<path d="M48.23 429.57L54.33 429.57L51.28 424.37Z" fill="#0808ea"/>
<path d="M54.31 420.81L60.41 420.81L57.36 415.61Z" fill="#0808ea"/>
<path d="M60.39 410.62L66.49 410.62L63.44 405.42Z" fill="#0808ea"/>
<path d="M66.47 400.63L72.57 400.63L69.52 395.43Z" fill="#0808ea"/>
<path d="M72.55 390.24L78.65 390.24L75.60 385.04Z" fill="#0808ea"/>
<path d="M78.63 378.62L84.73 378.62L81.68 373.42Z" fill="#0808ea"/>
<path d="M84.71 366.80L90.81 366.80L87.76 361.60Z" fill="#0808ea"/>
<path d="M90.79 355.39L96.89 355.39L93.84 350.19Z" fill="#0808ea"/>
<path d="M96.87 343.98L102.97 343.98L99.92 338.78Z" fill="#0808ea"/>
<path d="M102.95 333.58L109.05 333.58L106.00 328.38Z" fill="#0808ea"/>
<path d="M109.03 324.21L115.13 324.21L112.08 319.01Z" fill="#0808ea"/>
<path d="M115.11 316.87L121.21 316.87L118.16 311.67Z" fill="#0808ea"/>
<path d="M121.19 311.77L127.29 311.77L124.24 306.57Z" fill="#0808ea"/>
<path d="M127.27 309.33L133.37 309.33L130.32 304.13Z" fill="#0808ea"/>
<path d="M133.35 309.13L139.45 309.13L136.40 303.93Z" fill="#0808ea"/>
<path d="M139.43 310.35L145.53 310.35L142.48 305.15Z" fill="#0808ea"/>
<path d="M145.51 310.35L151.61 310.35L148.56 305.15Z" fill="#0808ea"/>
<path d="M151.59 309.74L157.69 309.74L154.64 304.54Z" fill="#0808ea"/>
<path d="M157.67 314.83L163.77 314.83L160.72 309.63Z" fill="#0808ea"/>
<path d="M163.75 323.19L169.85 323.19L166.80 317.99Z" fill="#0808ea"/>
<path d="M169.83 334.19L175.93 334.19L172.88 328.99Z" fill="#0808ea"/>
<path d="M175.91 346.01L182.01 346.01L178.96 340.81Z" fill="#0808ea"/>
<path d="M181.99 358.44L188.09 358.44L185.04 353.25Z" fill="#0808ea"/>
<path d="M188.07 371.28L194.17 371.28L191.12 366.08Z" fill="#0808ea"/>
<path d="M194.15 383.72L200.25 383.72L197.20 378.52Z" fill="#0808ea"/>
<path d="M200.23 394.72L206.33 394.72L203.28 389.52Z" fill="#0808ea"/>
<path d="M206.31 405.32L212.41 405.32L209.36 400.12Z" fill="#0808ea"/>
<path d="M212.39 414.49L218.49 414.49L215.44 409.29Z" fill="#0808ea"/>
<path d="M218.47 421.83L224.57 421.83L221.52 416.63Z" fill="#0808ea"/>
<path d="M224.55 422.85L230.65 422.85L227.60 417.65Z" fill="#0808ea"/>
<path d="M230.63 413.06L236.73 413.06L233.68 407.86Z" fill="#0808ea"/>
<path d="M236.71 386.77L242.81 386.77L239.76 381.57Z" fill="#0808ea"/>
<path d="M242.79 373.53L248.89 373.53L245.84 368.33Z" fill="#0808ea"/>
<path d="M248.87 380.86L254.97 380.86L251.92 375.66Z" fill="#0808ea"/>
<path d="M254.95 390.24L261.05 390.24L258.00 385.04Z" fill="#0808ea"/>
<path d="M261.03 394.31L267.13 394.31L264.08 389.11Z" fill="#0808ea"/>
<path d="M267.11 395.13L273.21 395.13L270.16 389.93Z" fill="#0808ea"/>
<path d="M273.19 392.68L279.29 392.68L276.24 387.48Z" fill="#0808ea"/>
<path d="M279.27 386.77L285.37 386.77L282.32 381.57Z" fill="#0808ea"/>
<path d="M285.35 377.81L291.45 377.81L288.40 372.61Z" fill="#0808ea"/>
<path d="M291.43 364.56L297.53 364.56L294.48 359.36Z" fill="#0808ea"/>
<path d="M297.51 351.11L303.61 351.11L300.56 345.91Z" fill="#0808ea"/>
<path d="M303.59 341.73L309.69 341.73L306.64 336.53Z" fill="#0808ea"/>
<path d="M309.67 345.40L315.77 345.40L312.72 340.20Z" fill="#0808ea"/>
<path d="M315.75 362.52L321.85 362.52L318.80 357.32Z" fill="#0808ea"/>
</g>
<path d="M45.20 504.00h-3.8M45.20 493.81h-2.0M45.20 483.62h-3.8M45.20 473.43h-2.0M45.20 463.24h-3.8M45.20 453.05h-2.0M45.20 442.86h-3.8M45.20 432.67h-2.0M45.20 422.48h-3.8M45.20 412.29h-2.0M45.20 402.10h-3.8M45.20 391.91h-2.0M45.20 381.72h-3.8M45.20 371.53h-2.0M45.20 361.34h-3.8M45.20 351.15h-2.0M45.20 340.96h-3.8M45.20 330.77h-2.0M45.20 320.58h-3.8M45.20 310.39h-2.0M45.20 300.20h-3.8M45.20 504.00v3.8M75.60 504.00v2.0M106.00 504.00v3.8M136.40 504.00v2.0M166.80 504.00v3.8M197.20 504.00v2.0M227.60 504.00v3.8M258.00 504.00v2.0M288.40 504.00v3.8M318.80 504.00v2.0" stroke="#383838" stroke-width="1.3" fill="none"/>
<text transform="translate(37.80 506.00) scale(0.87 1)" font-size="8.3" text-anchor="end" fill="#111">0</text>
<text transform="translate(37.80 485.62) scale(0.87 1)" font-size="8.3" text-anchor="end" fill="#111">10</text>
<text transform="translate(37.80 465.24) scale(0.87 1)" font-size="8.3" text-anchor="end" fill="#111">20</text>
<text transform="translate(37.80 444.86) scale(0.87 1)" font-size="8.3" text-anchor="end" fill="#111">30</text>
<text transform="translate(37.80 424.48) scale(0.87 1)" font-size="8.3" text-anchor="end" fill="#111">40</text>
<text transform="translate(37.80 404.10) scale(0.87 1)" font-size="8.3" text-anchor="end" fill="#111">50</text>
<text transform="translate(37.80 383.72) scale(0.87 1)" font-size="8.3" text-anchor="end" fill="#111">60</text>
<text transform="translate(37.80 363.34) scale(0.87 1)" font-size="8.3" text-anchor="end" fill="#111">70</text>
<text transform="translate(37.80 342.96) scale(0.87 1)" font-size="8.3" text-anchor="end" fill="#111">80</text>
<text transform="translate(37.80 322.58) scale(0.87 1)" font-size="8.3" text-anchor="end" fill="#111">90</text>
<text transform="translate(37.80 302.20) scale(0.87 1)" font-size="8.3" text-anchor="end" fill="#111">100</text>
<text transform="translate(45.20 516.70) scale(0.87 1)" font-size="8.3" text-anchor="middle" fill="#111">7</text>
<text transform="translate(106.00 516.70) scale(0.87 1)" font-size="8.3" text-anchor="middle" fill="#111">8</text>
<text transform="translate(166.80 516.70) scale(0.87 1)" font-size="8.3" text-anchor="middle" fill="#111">9</text>
<text transform="translate(227.60 516.70) scale(0.87 1)" font-size="8.3" text-anchor="middle" fill="#111">10</text>
<text transform="translate(288.40 516.70) scale(0.87 1)" font-size="8.3" text-anchor="middle" fill="#111">11</text>
<text x="178.60" y="296.20" font-size="12.2" text-anchor="middle" fill="#111">ON state</text>
<text x="182.30" y="534.80" font-size="12.3" text-anchor="middle" fill="#111">Frequency (GHz)</text>
<text transform="translate(16.60 409.70) rotate(-90)" font-size="12.2" text-anchor="middle" fill="#111">Absorptivity (%)</text>
<text x="178.30" y="554.40" font-size="19.5" font-weight="bold" style='font-family:"Liberation Serif", "Times New Roman", serif' text-anchor="middle" fill="#111">(c)</text>
<rect x="45.70" y="458.70" width="95.20" height="45.10" fill="#8c8c8c"/>
<rect x="44.70" y="457.70" width="95.20" height="45.10" fill="#fff" stroke="#a8a8a8" stroke-width="0.8"/>
<path d="M46.40 465.80h27" stroke="#222222" stroke-width="0.7" opacity="0.75"/>
<rect x="57.75" y="463.65" width="4.30" height="4.30" fill="#080808"/>
<text x="77.40" y="470.10" font-size="12.3" fill="#111">h = 2.5 mm</text>
<path d="M46.40 480.70h27" stroke="#f53535" stroke-width="0.7" opacity="0.75"/>
<circle cx="59.90" cy="480.70" r="2.50" fill="#f30e0e"/>
<text x="77.40" y="485.00" font-size="12.3" fill="#111">h = 3.5 mm</text>
<path d="M46.40 495.90h27" stroke="#3030f0" stroke-width="0.7" opacity="0.75"/>
<path d="M56.85 498.10L62.95 498.10L59.90 492.90Z" fill="#0808ea"/>
<text x="77.40" y="500.20" font-size="12.3" fill="#111">h = 4.5 mm</text>
</g>
<g>
<path d="M398.40 483.62H672.00M398.40 463.24H672.00M398.40 442.86H672.00M398.40 422.48H672.00M398.40 402.10H672.00M398.40 381.72H672.00M398.40 361.34H672.00M398.40 340.96H672.00M398.40 320.58H672.00M459.20 300.20V504.00M520.00 300.20V504.00M580.80 300.20V504.00M641.60 300.20V504.00" stroke="#c6c6c6" stroke-width="0.75" stroke-dasharray="1.1 1.5" fill="none"/>
<path d="M398.40 300.20H672.00V504.00" fill="none" stroke="#3a3a3a" stroke-width="1.25"/>
<path d="M398.40 299.60V504.00H672.60" fill="none" stroke="#383838" stroke-width="1.55"/>
<clipPath id="cp3"><path d="M397.60 299.40H672.80V504.80H399.40V457.70H397.60Z"/></clipPath>
<g clip-path="url(#cp3)">
<polyline points="398.40,454.88 404.48,448.57 410.56,441.84 416.64,434.91 422.72,427.78 428.80,420.03 434.88,411.07 440.96,402.10 447.04,392.52 453.12,383.15 459.20,372.35 465.28,362.36 471.36,352.78 477.44,342.79 483.52,333.42 489.60,324.66 495.68,317.32 501.76,310.59 507.84,306.11 513.92,302.24 520.00,300.81 526.08,300.61 532.16,300.81 538.24,302.85 544.32,305.70 550.40,310.19 556.48,315.28 562.56,320.58 568.64,325.06 574.72,325.47 580.80,312.22 586.88,302.24 592.96,315.69 599.04,328.94 605.12,338.51 611.20,346.46 617.28,353.19 623.36,358.28 629.44,363.58 635.52,367.66 641.60,371.73 647.68,375.40 653.76,378.66 659.84,381.52 665.92,383.55 672.00,385.39" fill="none" stroke="#222222" stroke-width="0.65"/>
<rect x="396.25" y="452.73" width="4.30" height="4.30" fill="#080808"/>
<rect x="402.33" y="446.42" width="4.30" height="4.30" fill="#080808"/>
<rect x="408.41" y="439.69" width="4.30" height="4.30" fill="#080808"/>
<rect x="414.49" y="432.76" width="4.30" height="4.30" fill="#080808"/>
<rect x="420.57" y="425.63" width="4.30" height="4.30" fill="#080808"/>
<rect x="426.65" y="417.88" width="4.30" height="4.30" fill="#080808"/>
<rect x="432.73" y="408.92" width="4.30" height="4.30" fill="#080808"/>
<rect x="438.81" y="399.95" width="4.30" height="4.30" fill="#080808"/>
<rect x="444.89" y="390.37" width="4.30" height="4.30" fill="#080808"/>
<rect x="450.97" y="381.00" width="4.30" height="4.30" fill="#080808"/>
<rect x="457.05" y="370.20" width="4.30" height="4.30" fill="#080808"/>
<rect x="463.13" y="360.21" width="4.30" height="4.30" fill="#080808"/>
<rect x="469.21" y="350.63" width="4.30" height="4.30" fill="#080808"/>
<rect x="475.29" y="340.64" width="4.30" height="4.30" fill="#080808"/>
<rect x="481.37" y="331.27" width="4.30" height="4.30" fill="#080808"/>
<rect x="487.45" y="322.51" width="4.30" height="4.30" fill="#080808"/>
<rect x="493.53" y="315.17" width="4.30" height="4.30" fill="#080808"/>
<rect x="499.61" y="308.44" width="4.30" height="4.30" fill="#080808"/>
<rect x="505.69" y="303.96" width="4.30" height="4.30" fill="#080808"/>
<rect x="511.77" y="300.09" width="4.30" height="4.30" fill="#080808"/>
<rect x="517.85" y="298.66" width="4.30" height="4.30" fill="#080808"/>
<rect x="523.93" y="298.46" width="4.30" height="4.30" fill="#080808"/>
<rect x="530.01" y="298.66" width="4.30" height="4.30" fill="#080808"/>
<rect x="536.09" y="300.70" width="4.30" height="4.30" fill="#080808"/>
<rect x="542.17" y="303.55" width="4.30" height="4.30" fill="#080808"/>
<rect x="548.25" y="308.04" width="4.30" height="4.30" fill="#080808"/>
<rect x="554.33" y="313.13" width="4.30" height="4.30" fill="#080808"/>
<rect x="560.41" y="318.43" width="4.30" height="4.30" fill="#080808"/>
<rect x="566.49" y="322.91" width="4.30" height="4.30" fill="#080808"/>
<rect x="572.57" y="323.32" width="4.30" height="4.30" fill="#080808"/>
<rect x="578.65" y="310.07" width="4.30" height="4.30" fill="#080808"/>
<rect x="584.73" y="300.09" width="4.30" height="4.30" fill="#080808"/>
<rect x="590.81" y="313.54" width="4.30" height="4.30" fill="#080808"/>
<rect x="596.89" y="326.79" width="4.30" height="4.30" fill="#080808"/>
<rect x="602.97" y="336.36" width="4.30" height="4.30" fill="#080808"/>
<rect x="609.05" y="344.31" width="4.30" height="4.30" fill="#080808"/>
<rect x="615.13" y="351.04" width="4.30" height="4.30" fill="#080808"/>
<rect x="621.21" y="356.13" width="4.30" height="4.30" fill="#080808"/>
<rect x="627.29" y="361.43" width="4.30" height="4.30" fill="#080808"/>
<rect x="633.37" y="365.51" width="4.30" height="4.30" fill="#080808"/>
<rect x="639.45" y="369.58" width="4.30" height="4.30" fill="#080808"/>
<rect x="645.53" y="373.25" width="4.30" height="4.30" fill="#080808"/>
<rect x="651.61" y="376.51" width="4.30" height="4.30" fill="#080808"/>
<rect x="657.69" y="379.37" width="4.30" height="4.30" fill="#080808"/>
<rect x="663.77" y="381.40" width="4.30" height="4.30" fill="#080808"/>
<rect x="669.85" y="383.24" width="4.30" height="4.30" fill="#080808"/>
<polyline points="398.40,459.78 404.48,455.09 410.56,449.99 416.64,444.69 422.72,439.40 428.80,434.10 434.88,427.98 440.96,422.28 447.04,415.96 453.12,409.84 459.20,403.12 465.28,396.19 471.36,388.45 477.44,379.68 483.52,371.33 489.60,362.97 495.68,355.02 501.76,347.48 507.84,340.14 513.92,332.81 520.00,326.29 526.08,319.97 532.16,314.26 538.24,309.57 544.32,306.11 550.40,303.26 556.48,302.24 562.56,301.83 568.64,302.24 574.72,303.66 580.80,306.11 586.88,308.15 592.96,309.57 599.04,313.04 605.12,316.30 611.20,320.58 617.28,325.47 623.36,330.36 629.44,335.05 635.52,339.74 641.60,344.42 647.68,349.11 653.76,353.80 659.84,358.08 665.92,362.16 672.00,366.84" fill="none" stroke="#f53535" stroke-width="0.65"/>
<circle cx="398.40" cy="459.78" r="2.50" fill="#f30e0e"/>
<circle cx="404.48" cy="455.09" r="2.50" fill="#f30e0e"/>
<circle cx="410.56" cy="449.99" r="2.50" fill="#f30e0e"/>
<circle cx="416.64" cy="444.69" r="2.50" fill="#f30e0e"/>
<circle cx="422.72" cy="439.40" r="2.50" fill="#f30e0e"/>
<circle cx="428.80" cy="434.10" r="2.50" fill="#f30e0e"/>
<circle cx="434.88" cy="427.98" r="2.50" fill="#f30e0e"/>
<circle cx="440.96" cy="422.28" r="2.50" fill="#f30e0e"/>
<circle cx="447.04" cy="415.96" r="2.50" fill="#f30e0e"/>
<circle cx="453.12" cy="409.84" r="2.50" fill="#f30e0e"/>
<circle cx="459.20" cy="403.12" r="2.50" fill="#f30e0e"/>
<circle cx="465.28" cy="396.19" r="2.50" fill="#f30e0e"/>
<circle cx="471.36" cy="388.45" r="2.50" fill="#f30e0e"/>
<circle cx="477.44" cy="379.68" r="2.50" fill="#f30e0e"/>
<circle cx="483.52" cy="371.33" r="2.50" fill="#f30e0e"/>
<circle cx="489.60" cy="362.97" r="2.50" fill="#f30e0e"/>
<circle cx="495.68" cy="355.02" r="2.50" fill="#f30e0e"/>
<circle cx="501.76" cy="347.48" r="2.50" fill="#f30e0e"/>
<circle cx="507.84" cy="340.14" r="2.50" fill="#f30e0e"/>
<circle cx="513.92" cy="332.81" r="2.50" fill="#f30e0e"/>
<circle cx="520.00" cy="326.29" r="2.50" fill="#f30e0e"/>
<circle cx="526.08" cy="319.97" r="2.50" fill="#f30e0e"/>
<circle cx="532.16" cy="314.26" r="2.50" fill="#f30e0e"/>
<circle cx="538.24" cy="309.57" r="2.50" fill="#f30e0e"/>
<circle cx="544.32" cy="306.11" r="2.50" fill="#f30e0e"/>
<circle cx="550.40" cy="303.26" r="2.50" fill="#f30e0e"/>
<circle cx="556.48" cy="302.24" r="2.50" fill="#f30e0e"/>
<circle cx="562.56" cy="301.83" r="2.50" fill="#f30e0e"/>
<circle cx="568.64" cy="302.24" r="2.50" fill="#f30e0e"/>
<circle cx="574.72" cy="303.66" r="2.50" fill="#f30e0e"/>
<circle cx="580.80" cy="306.11" r="2.50" fill="#f30e0e"/>
<circle cx="586.88" cy="308.15" r="2.50" fill="#f30e0e"/>
<circle cx="592.96" cy="309.57" r="2.50" fill="#f30e0e"/>
<circle cx="599.04" cy="313.04" r="2.50" fill="#f30e0e"/>
<circle cx="605.12" cy="316.30" r="2.50" fill="#f30e0e"/>
<circle cx="611.20" cy="320.58" r="2.50" fill="#f30e0e"/>
<circle cx="617.28" cy="325.47" r="2.50" fill="#f30e0e"/>
<circle cx="623.36" cy="330.36" r="2.50" fill="#f30e0e"/>
<circle cx="629.44" cy="335.05" r="2.50" fill="#f30e0e"/>
<circle cx="635.52" cy="339.74" r="2.50" fill="#f30e0e"/>
<circle cx="641.60" cy="344.42" r="2.50" fill="#f30e0e"/>
<circle cx="647.68" cy="349.11" r="2.50" fill="#f30e0e"/>
<circle cx="653.76" cy="353.80" r="2.50" fill="#f30e0e"/>
<circle cx="659.84" cy="358.08" r="2.50" fill="#f30e0e"/>
<circle cx="665.92" cy="362.16" r="2.50" fill="#f30e0e"/>
<circle cx="672.00" cy="366.84" r="2.50" fill="#f30e0e"/>
<polyline points="398.40,444.90 404.48,439.80 410.56,433.49 416.64,426.96 422.72,420.03 428.80,412.29 434.88,404.34 440.96,396.39 447.04,388.24 453.12,379.07 459.20,370.71 465.28,361.34 471.36,352.78 477.44,344.42 483.52,335.46 489.60,324.66 495.68,312.22 501.76,314.67 507.84,317.93 513.92,320.38 520.00,325.06 526.08,332.40 532.16,342.79 538.24,355.63 544.32,370.31 550.40,383.15 556.48,390.48 562.56,389.87 568.64,377.64 574.72,352.17 580.80,320.38 586.88,306.93 592.96,317.93 599.04,345.85 605.12,377.03 611.20,402.71 617.28,422.48 623.36,436.13 629.44,440.21 635.52,420.44 641.60,417.38 647.68,447.55 653.76,458.96 659.84,462.63 665.92,463.65 672.00,463.24" fill="none" stroke="#3030f0" stroke-width="0.65"/>
<path d="M395.35 447.10L401.45 447.10L398.40 441.90Z" fill="#0808ea"/>
<path d="M401.43 442.00L407.53 442.00L404.48 436.80Z" fill="#0808ea"/>
<path d="M407.51 435.69L413.61 435.69L410.56 430.49Z" fill="#0808ea"/>
<path d="M413.59 429.16L419.69 429.16L416.64 423.96Z" fill="#0808ea"/>
<path d="M419.67 422.23L425.77 422.23L422.72 417.03Z" fill="#0808ea"/>
<path d="M425.75 414.49L431.85 414.49L428.80 409.29Z" fill="#0808ea"/>
<path d="M431.83 406.54L437.93 406.54L434.88 401.34Z" fill="#0808ea"/>
<path d="M437.91 398.59L444.01 398.59L440.96 393.39Z" fill="#0808ea"/>
<path d="M443.99 390.44L450.09 390.44L447.04 385.24Z" fill="#0808ea"/>
<path d="M450.07 381.27L456.17 381.27L453.12 376.07Z" fill="#0808ea"/>
<path d="M456.15 372.91L462.25 372.91L459.20 367.71Z" fill="#0808ea"/>
<path d="M462.23 363.54L468.33 363.54L465.28 358.34Z" fill="#0808ea"/>
<path d="M468.31 354.98L474.41 354.98L471.36 349.78Z" fill="#0808ea"/>
<path d="M474.39 346.62L480.49 346.62L477.44 341.42Z" fill="#0808ea"/>
<path d="M480.47 337.66L486.57 337.66L483.52 332.46Z" fill="#0808ea"/>
<path d="M486.55 326.86L492.65 326.86L489.60 321.66Z" fill="#0808ea"/>
<path d="M492.63 314.42L498.73 314.42L495.68 309.22Z" fill="#0808ea"/>
<path d="M498.71 316.87L504.81 316.87L501.76 311.67Z" fill="#0808ea"/>
<path d="M504.79 320.13L510.89 320.13L507.84 314.93Z" fill="#0808ea"/>
<path d="M510.87 322.58L516.97 322.58L513.92 317.38Z" fill="#0808ea"/>
<path d="M516.95 327.26L523.05 327.26L520.00 322.06Z" fill="#0808ea"/>
<path d="M523.03 334.60L529.13 334.60L526.08 329.40Z" fill="#0808ea"/>
<path d="M529.11 344.99L535.21 344.99L532.16 339.79Z" fill="#0808ea"/>
<path d="M535.19 357.83L541.29 357.83L538.24 352.63Z" fill="#0808ea"/>
<path d="M541.27 372.51L547.37 372.51L544.32 367.31Z" fill="#0808ea"/>
<path d="M547.35 385.35L553.45 385.35L550.40 380.15Z" fill="#0808ea"/>
<path d="M553.43 392.68L559.53 392.68L556.48 387.48Z" fill="#0808ea"/>
<path d="M559.51 392.07L565.61 392.07L562.56 386.87Z" fill="#0808ea"/>
<path d="M565.59 379.84L571.69 379.84L568.64 374.64Z" fill="#0808ea"/>
<path d="M571.67 354.37L577.77 354.37L574.72 349.17Z" fill="#0808ea"/>
<path d="M577.75 322.58L583.85 322.58L580.80 317.38Z" fill="#0808ea"/>
<path d="M583.83 309.13L589.93 309.13L586.88 303.93Z" fill="#0808ea"/>
<path d="M589.91 320.13L596.01 320.13L592.96 314.93Z" fill="#0808ea"/>
<path d="M595.99 348.05L602.09 348.05L599.04 342.85Z" fill="#0808ea"/>
<path d="M602.07 379.23L608.17 379.23L605.12 374.03Z" fill="#0808ea"/>
<path d="M608.15 404.91L614.25 404.91L611.20 399.71Z" fill="#0808ea"/>
<path d="M614.23 424.68L620.33 424.68L617.28 419.48Z" fill="#0808ea"/>
<path d="M620.31 438.33L626.41 438.33L623.36 433.13Z" fill="#0808ea"/>
<path d="M626.39 442.41L632.49 442.41L629.44 437.21Z" fill="#0808ea"/>
<path d="M632.47 422.64L638.57 422.64L635.52 417.44Z" fill="#0808ea"/>
<path d="M638.55 419.58L644.65 419.58L641.60 414.38Z" fill="#0808ea"/>
<path d="M644.63 449.75L650.73 449.75L647.68 444.55Z" fill="#0808ea"/>
<path d="M650.71 461.16L656.81 461.16L653.76 455.96Z" fill="#0808ea"/>
<path d="M656.79 464.83L662.89 464.83L659.84 459.63Z" fill="#0808ea"/>
<path d="M662.87 465.85L668.97 465.85L665.92 460.65Z" fill="#0808ea"/>
<path d="M668.95 465.44L675.05 465.44L672.00 460.24Z" fill="#0808ea"/>
</g>
<path d="M398.40 504.00h-3.8M398.40 493.81h-2.0M398.40 483.62h-3.8M398.40 473.43h-2.0M398.40 463.24h-3.8M398.40 453.05h-2.0M398.40 442.86h-3.8M398.40 432.67h-2.0M398.40 422.48h-3.8M398.40 412.29h-2.0M398.40 402.10h-3.8M398.40 391.91h-2.0M398.40 381.72h-3.8M398.40 371.53h-2.0M398.40 361.34h-3.8M398.40 351.15h-2.0M398.40 340.96h-3.8M398.40 330.77h-2.0M398.40 320.58h-3.8M398.40 310.39h-2.0M398.40 300.20h-3.8M398.40 504.00v3.8M428.80 504.00v2.0M459.20 504.00v3.8M489.60 504.00v2.0M520.00 504.00v3.8M550.40 504.00v2.0M580.80 504.00v3.8M611.20 504.00v2.0M641.60 504.00v3.8M672.00 504.00v2.0" stroke="#383838" stroke-width="1.3" fill="none"/>
<text transform="translate(391.00 506.00) scale(0.87 1)" font-size="8.3" text-anchor="end" fill="#111">0</text>
<text transform="translate(391.00 485.62) scale(0.87 1)" font-size="8.3" text-anchor="end" fill="#111">10</text>
<text transform="translate(391.00 465.24) scale(0.87 1)" font-size="8.3" text-anchor="end" fill="#111">20</text>
<text transform="translate(391.00 444.86) scale(0.87 1)" font-size="8.3" text-anchor="end" fill="#111">30</text>
<text transform="translate(391.00 424.48) scale(0.87 1)" font-size="8.3" text-anchor="end" fill="#111">40</text>
<text transform="translate(391.00 404.10) scale(0.87 1)" font-size="8.3" text-anchor="end" fill="#111">50</text>
<text transform="translate(391.00 383.72) scale(0.87 1)" font-size="8.3" text-anchor="end" fill="#111">60</text>
<text transform="translate(391.00 363.34) scale(0.87 1)" font-size="8.3" text-anchor="end" fill="#111">70</text>
<text transform="translate(391.00 342.96) scale(0.87 1)" font-size="8.3" text-anchor="end" fill="#111">80</text>
<text transform="translate(391.00 322.58) scale(0.87 1)" font-size="8.3" text-anchor="end" fill="#111">90</text>
<text transform="translate(391.00 302.20) scale(0.87 1)" font-size="8.3" text-anchor="end" fill="#111">100</text>
<text transform="translate(398.40 516.70) scale(0.87 1)" font-size="8.3" text-anchor="middle" fill="#111">7</text>
<text transform="translate(459.20 516.70) scale(0.87 1)" font-size="8.3" text-anchor="middle" fill="#111">8</text>
<text transform="translate(520.00 516.70) scale(0.87 1)" font-size="8.3" text-anchor="middle" fill="#111">9</text>
<text transform="translate(580.80 516.70) scale(0.87 1)" font-size="8.3" text-anchor="middle" fill="#111">10</text>
<text transform="translate(641.60 516.70) scale(0.87 1)" font-size="8.3" text-anchor="middle" fill="#111">11</text>
<text x="532.90" y="296.20" font-size="12.2" text-anchor="middle" fill="#111">OFF state</text>
<text x="534.60" y="534.80" font-size="12.3" text-anchor="middle" fill="#111">Frequency (GHz)</text>
<text transform="translate(369.80 409.70) rotate(-90)" font-size="12.2" text-anchor="middle" fill="#111">Absorptivity (%)</text>
<text x="533.80" y="554.40" font-size="19.5" font-weight="bold" style='font-family:"Liberation Serif", "Times New Roman", serif' text-anchor="middle" fill="#111">(d)</text>
<rect x="398.20" y="458.70" width="95.20" height="45.10" fill="#8c8c8c"/>
<rect x="397.20" y="457.70" width="95.20" height="45.10" fill="#fff" stroke="#a8a8a8" stroke-width="0.8"/>
<path d="M398.90 465.80h27" stroke="#222222" stroke-width="0.7" opacity="0.75"/>
<rect x="410.25" y="463.65" width="4.30" height="4.30" fill="#080808"/>
<text x="429.90" y="470.10" font-size="12.3" fill="#111">h = 2.5 mm</text>
<path d="M398.90 480.70h27" stroke="#f53535" stroke-width="0.7" opacity="0.75"/>
<circle cx="412.40" cy="480.70" r="2.50" fill="#f30e0e"/>
<text x="429.90" y="485.00" font-size="12.3" fill="#111">h = 3.5 mm</text>
<path d="M398.90 495.90h27" stroke="#3030f0" stroke-width="0.7" opacity="0.75"/>
<path d="M409.35 498.10L415.45 498.10L412.40 492.90Z" fill="#0808ea"/>
<text x="429.90" y="500.20" font-size="12.3" fill="#111">h = 4.5 mm</text>
</g>
<g>
<path d="M45.20 767.62H318.80M45.20 747.24H318.80M45.20 726.86H318.80M45.20 706.48H318.80M45.20 686.10H318.80M45.20 665.72H318.80M45.20 645.34H318.80M45.20 624.96H318.80M45.20 604.58H318.80M106.00 584.20V788.00M166.80 584.20V788.00M227.60 584.20V788.00M288.40 584.20V788.00" stroke="#c6c6c6" stroke-width="0.75" stroke-dasharray="1.1 1.5" fill="none"/>
<path d="M45.20 584.20H318.80V788.00" fill="none" stroke="#3a3a3a" stroke-width="1.25"/>
<path d="M45.20 583.60V788.00H319.40" fill="none" stroke="#383838" stroke-width="1.55"/>
<clipPath id="cp4"><rect x="44.40" y="583.40" width="275.20" height="205.40"/></clipPath>
<g clip-path="url(#cp4)">
<polyline points="45.20,729.92 51.28,722.78 57.36,715.45 63.44,706.68 69.52,698.33 75.60,688.75 81.68,678.36 87.76,668.17 93.84,657.36 99.92,646.36 106.00,635.76 112.08,625.37 118.16,615.79 124.24,606.41 130.32,599.28 136.40,593.17 142.48,589.30 148.56,586.85 154.64,586.65 160.72,587.66 166.80,590.93 172.88,595.00 178.96,599.69 185.04,606.01 191.12,612.94 197.20,620.07 203.28,627.41 209.36,634.33 215.44,641.67 221.52,648.60 227.60,655.12 233.68,660.62 239.76,663.07 245.84,665.11 251.92,672.24 258.00,678.15 264.08,683.04 270.16,687.32 276.24,690.99 282.32,694.05 288.40,696.70 294.48,698.53 300.56,699.35 306.64,699.35 312.72,698.53 318.80,696.70" fill="none" stroke="#222222" stroke-width="0.65"/>
<rect x="43.05" y="727.77" width="4.30" height="4.30" fill="#080808"/>
<rect x="49.13" y="720.63" width="4.30" height="4.30" fill="#080808"/>
<rect x="55.21" y="713.30" width="4.30" height="4.30" fill="#080808"/>
<rect x="61.29" y="704.53" width="4.30" height="4.30" fill="#080808"/>
<rect x="67.37" y="696.18" width="4.30" height="4.30" fill="#080808"/>
<rect x="73.45" y="686.60" width="4.30" height="4.30" fill="#080808"/>
<rect x="79.53" y="676.21" width="4.30" height="4.30" fill="#080808"/>
<rect x="85.61" y="666.02" width="4.30" height="4.30" fill="#080808"/>
<rect x="91.69" y="655.21" width="4.30" height="4.30" fill="#080808"/>
<rect x="97.77" y="644.21" width="4.30" height="4.30" fill="#080808"/>
<rect x="103.85" y="633.61" width="4.30" height="4.30" fill="#080808"/>
<rect x="109.93" y="623.22" width="4.30" height="4.30" fill="#080808"/>
<rect x="116.01" y="613.64" width="4.30" height="4.30" fill="#080808"/>
<rect x="122.09" y="604.26" width="4.30" height="4.30" fill="#080808"/>
<rect x="128.17" y="597.13" width="4.30" height="4.30" fill="#080808"/>
<rect x="134.25" y="591.02" width="4.30" height="4.30" fill="#080808"/>
<rect x="140.33" y="587.15" width="4.30" height="4.30" fill="#080808"/>
<rect x="146.41" y="584.70" width="4.30" height="4.30" fill="#080808"/>
<rect x="152.49" y="584.50" width="4.30" height="4.30" fill="#080808"/>
<rect x="158.57" y="585.51" width="4.30" height="4.30" fill="#080808"/>
<rect x="164.65" y="588.78" width="4.30" height="4.30" fill="#080808"/>
<rect x="170.73" y="592.85" width="4.30" height="4.30" fill="#080808"/>
<rect x="176.81" y="597.54" width="4.30" height="4.30" fill="#080808"/>
<rect x="182.89" y="603.86" width="4.30" height="4.30" fill="#080808"/>
<rect x="188.97" y="610.79" width="4.30" height="4.30" fill="#080808"/>
<rect x="195.05" y="617.92" width="4.30" height="4.30" fill="#080808"/>
<rect x="201.13" y="625.26" width="4.30" height="4.30" fill="#080808"/>
<rect x="207.21" y="632.18" width="4.30" height="4.30" fill="#080808"/>
<rect x="213.29" y="639.52" width="4.30" height="4.30" fill="#080808"/>
<rect x="219.37" y="646.45" width="4.30" height="4.30" fill="#080808"/>
<rect x="225.45" y="652.97" width="4.30" height="4.30" fill="#080808"/>
<rect x="231.53" y="658.48" width="4.30" height="4.30" fill="#080808"/>
<rect x="237.61" y="660.92" width="4.30" height="4.30" fill="#080808"/>
<rect x="243.69" y="662.96" width="4.30" height="4.30" fill="#080808"/>
<rect x="249.77" y="670.09" width="4.30" height="4.30" fill="#080808"/>
<rect x="255.85" y="676.00" width="4.30" height="4.30" fill="#080808"/>
<rect x="261.93" y="680.89" width="4.30" height="4.30" fill="#080808"/>
<rect x="268.01" y="685.17" width="4.30" height="4.30" fill="#080808"/>
<rect x="274.09" y="688.84" width="4.30" height="4.30" fill="#080808"/>
<rect x="280.17" y="691.90" width="4.30" height="4.30" fill="#080808"/>
<rect x="286.25" y="694.55" width="4.30" height="4.30" fill="#080808"/>
<rect x="292.33" y="696.38" width="4.30" height="4.30" fill="#080808"/>
<rect x="298.41" y="697.20" width="4.30" height="4.30" fill="#080808"/>
<rect x="304.49" y="697.20" width="4.30" height="4.30" fill="#080808"/>
<rect x="310.57" y="696.38" width="4.30" height="4.30" fill="#080808"/>
<rect x="316.65" y="694.55" width="4.30" height="4.30" fill="#080808"/>
<polyline points="45.20,686.30 51.28,675.09 57.36,663.68 63.44,652.27 69.52,641.26 75.60,631.28 81.68,621.50 87.76,613.75 93.84,607.03 99.92,602.54 106.00,599.69 112.08,599.28 118.16,601.52 124.24,605.40 130.32,610.49 136.40,616.81 142.48,624.35 148.56,632.30 154.64,640.25 160.72,648.60 166.80,656.35 172.88,664.09 178.96,671.43 185.04,678.36 191.12,684.06 197.20,689.36 203.28,694.05 209.36,698.53 215.44,702.40 221.52,705.66 227.60,708.52 233.68,710.96 239.76,713.00 245.84,714.84 251.92,716.06 258.00,717.08 264.08,717.89 270.16,718.10 276.24,717.89 282.32,716.87 288.40,714.43 294.48,710.76 300.56,705.05 306.64,697.72 312.72,687.93 318.80,675.71" fill="none" stroke="#f53535" stroke-width="0.65"/>
<circle cx="45.20" cy="686.30" r="2.50" fill="#f30e0e"/>
<circle cx="51.28" cy="675.09" r="2.50" fill="#f30e0e"/>
<circle cx="57.36" cy="663.68" r="2.50" fill="#f30e0e"/>
<circle cx="63.44" cy="652.27" r="2.50" fill="#f30e0e"/>
<circle cx="69.52" cy="641.26" r="2.50" fill="#f30e0e"/>
<circle cx="75.60" cy="631.28" r="2.50" fill="#f30e0e"/>
<circle cx="81.68" cy="621.50" r="2.50" fill="#f30e0e"/>
<circle cx="87.76" cy="613.75" r="2.50" fill="#f30e0e"/>
<circle cx="93.84" cy="607.03" r="2.50" fill="#f30e0e"/>
<circle cx="99.92" cy="602.54" r="2.50" fill="#f30e0e"/>
<circle cx="106.00" cy="599.69" r="2.50" fill="#f30e0e"/>
<circle cx="112.08" cy="599.28" r="2.50" fill="#f30e0e"/>
<circle cx="118.16" cy="601.52" r="2.50" fill="#f30e0e"/>
<circle cx="124.24" cy="605.40" r="2.50" fill="#f30e0e"/>
<circle cx="130.32" cy="610.49" r="2.50" fill="#f30e0e"/>
<circle cx="136.40" cy="616.81" r="2.50" fill="#f30e0e"/>
<circle cx="142.48" cy="624.35" r="2.50" fill="#f30e0e"/>
<circle cx="148.56" cy="632.30" r="2.50" fill="#f30e0e"/>
<circle cx="154.64" cy="640.25" r="2.50" fill="#f30e0e"/>
<circle cx="160.72" cy="648.60" r="2.50" fill="#f30e0e"/>
<circle cx="166.80" cy="656.35" r="2.50" fill="#f30e0e"/>
<circle cx="172.88" cy="664.09" r="2.50" fill="#f30e0e"/>
<circle cx="178.96" cy="671.43" r="2.50" fill="#f30e0e"/>
<circle cx="185.04" cy="678.36" r="2.50" fill="#f30e0e"/>
<circle cx="191.12" cy="684.06" r="2.50" fill="#f30e0e"/>
<circle cx="197.20" cy="689.36" r="2.50" fill="#f30e0e"/>
<circle cx="203.28" cy="694.05" r="2.50" fill="#f30e0e"/>
<circle cx="209.36" cy="698.53" r="2.50" fill="#f30e0e"/>
<circle cx="215.44" cy="702.40" r="2.50" fill="#f30e0e"/>
<circle cx="221.52" cy="705.66" r="2.50" fill="#f30e0e"/>
<circle cx="227.60" cy="708.52" r="2.50" fill="#f30e0e"/>
<circle cx="233.68" cy="710.96" r="2.50" fill="#f30e0e"/>
<circle cx="239.76" cy="713.00" r="2.50" fill="#f30e0e"/>
<circle cx="245.84" cy="714.84" r="2.50" fill="#f30e0e"/>
<circle cx="251.92" cy="716.06" r="2.50" fill="#f30e0e"/>
<circle cx="258.00" cy="717.08" r="2.50" fill="#f30e0e"/>
<circle cx="264.08" cy="717.89" r="2.50" fill="#f30e0e"/>
<circle cx="270.16" cy="718.10" r="2.50" fill="#f30e0e"/>
<circle cx="276.24" cy="717.89" r="2.50" fill="#f30e0e"/>
<circle cx="282.32" cy="716.87" r="2.50" fill="#f30e0e"/>
<circle cx="288.40" cy="714.43" r="2.50" fill="#f30e0e"/>
<circle cx="294.48" cy="710.76" r="2.50" fill="#f30e0e"/>
<circle cx="300.56" cy="705.05" r="2.50" fill="#f30e0e"/>
<circle cx="306.64" cy="697.72" r="2.50" fill="#f30e0e"/>
<circle cx="312.72" cy="687.93" r="2.50" fill="#f30e0e"/>
<circle cx="318.80" cy="675.71" r="2.50" fill="#f30e0e"/>
<polyline points="45.20,617.01 51.28,617.01 57.36,620.48 63.44,626.39 69.52,633.32 75.60,641.26 81.68,650.23 87.76,659.40 93.84,667.76 99.92,676.73 106.00,684.47 112.08,691.81 118.16,698.53 124.24,704.65 130.32,710.35 136.40,715.45 142.48,719.93 148.56,724.21 154.64,727.88 160.72,730.94 166.80,733.38 172.88,735.22 178.96,736.85 185.04,738.27 191.12,738.68 197.20,738.27 203.28,737.25 209.36,735.22 215.44,730.94 221.52,723.40 227.60,708.11 233.68,678.56 239.76,645.95 245.84,665.11 251.92,698.33 258.00,712.39 264.08,716.06 270.16,715.04 276.24,710.35 282.32,703.02 288.40,693.44 294.48,682.84 300.56,670.41 306.64,657.36 312.72,643.91 318.80,630.26" fill="none" stroke="#3030f0" stroke-width="0.65"/>
<path d="M42.15 619.21L48.25 619.21L45.20 614.01Z" fill="#0808ea"/>
<path d="M48.23 619.21L54.33 619.21L51.28 614.01Z" fill="#0808ea"/>
<path d="M54.31 622.68L60.41 622.68L57.36 617.48Z" fill="#0808ea"/>
<path d="M60.39 628.59L66.49 628.59L63.44 623.39Z" fill="#0808ea"/>
<path d="M66.47 635.52L72.57 635.52L69.52 630.32Z" fill="#0808ea"/>
<path d="M72.55 643.46L78.65 643.46L75.60 638.26Z" fill="#0808ea"/>
<path d="M78.63 652.43L84.73 652.43L81.68 647.23Z" fill="#0808ea"/>
<path d="M84.71 661.60L90.81 661.60L87.76 656.40Z" fill="#0808ea"/>
<path d="M90.79 669.96L96.89 669.96L93.84 664.76Z" fill="#0808ea"/>
<path d="M96.87 678.93L102.97 678.93L99.92 673.73Z" fill="#0808ea"/>
<path d="M102.95 686.67L109.05 686.67L106.00 681.47Z" fill="#0808ea"/>
<path d="M109.03 694.01L115.13 694.01L112.08 688.81Z" fill="#0808ea"/>
<path d="M115.11 700.73L121.21 700.73L118.16 695.53Z" fill="#0808ea"/>
<path d="M121.19 706.85L127.29 706.85L124.24 701.65Z" fill="#0808ea"/>
<path d="M127.27 712.55L133.37 712.55L130.32 707.35Z" fill="#0808ea"/>
<path d="M133.35 717.65L139.45 717.65L136.40 712.45Z" fill="#0808ea"/>
<path d="M139.43 722.13L145.53 722.13L142.48 716.93Z" fill="#0808ea"/>
<path d="M145.51 726.41L151.61 726.41L148.56 721.21Z" fill="#0808ea"/>
<path d="M151.59 730.08L157.69 730.08L154.64 724.88Z" fill="#0808ea"/>
<path d="M157.67 733.14L163.77 733.14L160.72 727.94Z" fill="#0808ea"/>
<path d="M163.75 735.58L169.85 735.58L166.80 730.38Z" fill="#0808ea"/>
<path d="M169.83 737.42L175.93 737.42L172.88 732.22Z" fill="#0808ea"/>
<path d="M175.91 739.05L182.01 739.05L178.96 733.85Z" fill="#0808ea"/>
<path d="M181.99 740.47L188.09 740.47L185.04 735.27Z" fill="#0808ea"/>
<path d="M188.07 740.88L194.17 740.88L191.12 735.68Z" fill="#0808ea"/>
<path d="M194.15 740.47L200.25 740.47L197.20 735.27Z" fill="#0808ea"/>
<path d="M200.23 739.45L206.33 739.45L203.28 734.25Z" fill="#0808ea"/>
<path d="M206.31 737.42L212.41 737.42L209.36 732.22Z" fill="#0808ea"/>
<path d="M212.39 733.14L218.49 733.14L215.44 727.94Z" fill="#0808ea"/>
<path d="M218.47 725.60L224.57 725.60L221.52 720.40Z" fill="#0808ea"/>
<path d="M224.55 710.31L230.65 710.31L227.60 705.11Z" fill="#0808ea"/>
<path d="M230.63 680.76L236.73 680.76L233.68 675.56Z" fill="#0808ea"/>
<path d="M236.71 648.15L242.81 648.15L239.76 642.95Z" fill="#0808ea"/>
<path d="M242.79 667.31L248.89 667.31L245.84 662.11Z" fill="#0808ea"/>
<path d="M248.87 700.53L254.97 700.53L251.92 695.33Z" fill="#0808ea"/>
<path d="M254.95 714.59L261.05 714.59L258.00 709.39Z" fill="#0808ea"/>
<path d="M261.03 718.26L267.13 718.26L264.08 713.06Z" fill="#0808ea"/>
<path d="M267.11 717.24L273.21 717.24L270.16 712.04Z" fill="#0808ea"/>
<path d="M273.19 712.55L279.29 712.55L276.24 707.35Z" fill="#0808ea"/>
<path d="M279.27 705.22L285.37 705.22L282.32 700.02Z" fill="#0808ea"/>
<path d="M285.35 695.64L291.45 695.64L288.40 690.44Z" fill="#0808ea"/>
<path d="M291.43 685.04L297.53 685.04L294.48 679.84Z" fill="#0808ea"/>
<path d="M297.51 672.61L303.61 672.61L300.56 667.41Z" fill="#0808ea"/>
<path d="M303.59 659.56L309.69 659.56L306.64 654.36Z" fill="#0808ea"/>
<path d="M309.67 646.11L315.77 646.11L312.72 640.91Z" fill="#0808ea"/>
<path d="M315.75 632.46L321.85 632.46L318.80 627.26Z" fill="#0808ea"/>
<polyline points="45.20,638.82 51.28,643.91 57.36,649.62 63.44,655.73 69.52,662.66 75.60,670.41 81.68,678.15 87.76,685.08 93.84,691.60 99.92,698.33 106.00,704.03 112.08,709.54 118.16,714.43 124.24,718.50 130.32,722.78 136.40,726.45 142.48,729.92 148.56,732.57 154.64,735.22 160.72,737.25 166.80,738.68 172.88,739.29 178.96,739.70 185.04,739.70 191.12,739.29 197.20,737.25 203.28,733.59 209.36,727.88 215.44,718.50 221.52,704.44 227.60,677.95 233.68,637.19 239.76,602.54 245.84,621.50 251.92,664.09 258.00,690.58 264.08,700.57 270.16,703.42 276.24,699.96 282.32,694.05 288.40,686.71 294.48,677.95 300.56,668.57 306.64,657.98 312.72,649.21 318.80,640.25" fill="none" stroke="#2f9494" stroke-width="0.65"/>
<path d="M42.15 636.62L48.25 636.62L45.20 641.82Z" fill="#0a6c6c"/>
<path d="M48.23 641.71L54.33 641.71L51.28 646.91Z" fill="#0a6c6c"/>
<path d="M54.31 647.42L60.41 647.42L57.36 652.62Z" fill="#0a6c6c"/>
<path d="M60.39 653.53L66.49 653.53L63.44 658.73Z" fill="#0a6c6c"/>
<path d="M66.47 660.46L72.57 660.46L69.52 665.66Z" fill="#0a6c6c"/>
<path d="M72.55 668.21L78.65 668.21L75.60 673.41Z" fill="#0a6c6c"/>
<path d="M78.63 675.95L84.73 675.95L81.68 681.15Z" fill="#0a6c6c"/>
<path d="M84.71 682.88L90.81 682.88L87.76 688.08Z" fill="#0a6c6c"/>
<path d="M90.79 689.40L96.89 689.40L93.84 694.60Z" fill="#0a6c6c"/>
<path d="M96.87 696.13L102.97 696.13L99.92 701.33Z" fill="#0a6c6c"/>
<path d="M102.95 701.83L109.05 701.83L106.00 707.03Z" fill="#0a6c6c"/>
<path d="M109.03 707.34L115.13 707.34L112.08 712.54Z" fill="#0a6c6c"/>
<path d="M115.11 712.23L121.21 712.23L118.16 717.43Z" fill="#0a6c6c"/>
<path d="M121.19 716.30L127.29 716.30L124.24 721.50Z" fill="#0a6c6c"/>
<path d="M127.27 720.58L133.37 720.58L130.32 725.78Z" fill="#0a6c6c"/>
<path d="M133.35 724.25L139.45 724.25L136.40 729.45Z" fill="#0a6c6c"/>
<path d="M139.43 727.72L145.53 727.72L142.48 732.92Z" fill="#0a6c6c"/>
<path d="M145.51 730.37L151.61 730.37L148.56 735.57Z" fill="#0a6c6c"/>
<path d="M151.59 733.02L157.69 733.02L154.64 738.22Z" fill="#0a6c6c"/>
<path d="M157.67 735.05L163.77 735.05L160.72 740.25Z" fill="#0a6c6c"/>
<path d="M163.75 736.48L169.85 736.48L166.80 741.68Z" fill="#0a6c6c"/>
<path d="M169.83 737.09L175.93 737.09L172.88 742.29Z" fill="#0a6c6c"/>
<path d="M175.91 737.50L182.01 737.50L178.96 742.70Z" fill="#0a6c6c"/>
<path d="M181.99 737.50L188.09 737.50L185.04 742.70Z" fill="#0a6c6c"/>
<path d="M188.07 737.09L194.17 737.09L191.12 742.29Z" fill="#0a6c6c"/>
<path d="M194.15 735.05L200.25 735.05L197.20 740.25Z" fill="#0a6c6c"/>
<path d="M200.23 731.39L206.33 731.39L203.28 736.59Z" fill="#0a6c6c"/>
<path d="M206.31 725.68L212.41 725.68L209.36 730.88Z" fill="#0a6c6c"/>
<path d="M212.39 716.30L218.49 716.30L215.44 721.50Z" fill="#0a6c6c"/>
<path d="M218.47 702.24L224.57 702.24L221.52 707.44Z" fill="#0a6c6c"/>
<path d="M224.55 675.75L230.65 675.75L227.60 680.95Z" fill="#0a6c6c"/>
<path d="M230.63 634.99L236.73 634.99L233.68 640.19Z" fill="#0a6c6c"/>
<path d="M236.71 600.34L242.81 600.34L239.76 605.54Z" fill="#0a6c6c"/>
<path d="M242.79 619.30L248.89 619.30L245.84 624.50Z" fill="#0a6c6c"/>
<path d="M248.87 661.89L254.97 661.89L251.92 667.09Z" fill="#0a6c6c"/>
<path d="M254.95 688.38L261.05 688.38L258.00 693.58Z" fill="#0a6c6c"/>
<path d="M261.03 698.37L267.13 698.37L264.08 703.57Z" fill="#0a6c6c"/>
<path d="M267.11 701.22L273.21 701.22L270.16 706.42Z" fill="#0a6c6c"/>
<path d="M273.19 697.76L279.29 697.76L276.24 702.96Z" fill="#0a6c6c"/>
<path d="M279.27 691.85L285.37 691.85L282.32 697.05Z" fill="#0a6c6c"/>
<path d="M285.35 684.51L291.45 684.51L288.40 689.71Z" fill="#0a6c6c"/>
<path d="M291.43 675.75L297.53 675.75L294.48 680.95Z" fill="#0a6c6c"/>
<path d="M297.51 666.37L303.61 666.37L300.56 671.57Z" fill="#0a6c6c"/>
<path d="M303.59 655.78L309.69 655.78L306.64 660.98Z" fill="#0a6c6c"/>
<path d="M309.67 647.01L315.77 647.01L312.72 652.21Z" fill="#0a6c6c"/>
<path d="M315.75 638.04L321.85 638.04L318.80 643.25Z" fill="#0a6c6c"/>
</g>
<path d="M45.20 788.00h-3.8M45.20 777.81h-2.0M45.20 767.62h-3.8M45.20 757.43h-2.0M45.20 747.24h-3.8M45.20 737.05h-2.0M45.20 726.86h-3.8M45.20 716.67h-2.0M45.20 706.48h-3.8M45.20 696.29h-2.0M45.20 686.10h-3.8M45.20 675.91h-2.0M45.20 665.72h-3.8M45.20 655.53h-2.0M45.20 645.34h-3.8M45.20 635.15h-2.0M45.20 624.96h-3.8M45.20 614.77h-2.0M45.20 604.58h-3.8M45.20 594.39h-2.0M45.20 584.20h-3.8M45.20 788.00v3.8M75.60 788.00v2.0M106.00 788.00v3.8M136.40 788.00v2.0M166.80 788.00v3.8M197.20 788.00v2.0M227.60 788.00v3.8M258.00 788.00v2.0M288.40 788.00v3.8M318.80 788.00v2.0" stroke="#383838" stroke-width="1.3" fill="none"/>
<text transform="translate(37.80 790.00) scale(0.87 1)" font-size="8.3" text-anchor="end" fill="#111">0</text>
<text transform="translate(37.80 769.62) scale(0.87 1)" font-size="8.3" text-anchor="end" fill="#111">10</text>
<text transform="translate(37.80 749.24) scale(0.87 1)" font-size="8.3" text-anchor="end" fill="#111">20</text>
<text transform="translate(37.80 728.86) scale(0.87 1)" font-size="8.3" text-anchor="end" fill="#111">30</text>
<text transform="translate(37.80 708.48) scale(0.87 1)" font-size="8.3" text-anchor="end" fill="#111">40</text>
<text transform="translate(37.80 688.10) scale(0.87 1)" font-size="8.3" text-anchor="end" fill="#111">50</text>
<text transform="translate(37.80 667.72) scale(0.87 1)" font-size="8.3" text-anchor="end" fill="#111">60</text>
<text transform="translate(37.80 647.34) scale(0.87 1)" font-size="8.3" text-anchor="end" fill="#111">70</text>
<text transform="translate(37.80 626.96) scale(0.87 1)" font-size="8.3" text-anchor="end" fill="#111">80</text>
<text transform="translate(37.80 606.58) scale(0.87 1)" font-size="8.3" text-anchor="end" fill="#111">90</text>
<text transform="translate(37.80 586.20) scale(0.87 1)" font-size="8.3" text-anchor="end" fill="#111">100</text>
<text transform="translate(45.20 800.70) scale(0.87 1)" font-size="8.3" text-anchor="middle" fill="#111">7</text>
<text transform="translate(106.00 800.70) scale(0.87 1)" font-size="8.3" text-anchor="middle" fill="#111">8</text>
<text transform="translate(166.80 800.70) scale(0.87 1)" font-size="8.3" text-anchor="middle" fill="#111">9</text>
<text transform="translate(227.60 800.70) scale(0.87 1)" font-size="8.3" text-anchor="middle" fill="#111">10</text>
<text transform="translate(288.40 800.70) scale(0.87 1)" font-size="8.3" text-anchor="middle" fill="#111">11</text>
<text x="183.40" y="580.20" font-size="12.2" text-anchor="middle" fill="#111">ON state</text>
<text x="181.90" y="818.90" font-size="11.4" text-anchor="middle" fill="#111">Frequency (GHz)</text>
<text transform="translate(16.60 693.70) rotate(-90)" font-size="12.2" text-anchor="middle" fill="#111">Absorptivity (%)</text>
<text x="178.30" y="839.00" font-size="19.5" font-weight="bold" style='font-family:"Liberation Serif", "Times New Roman", serif' text-anchor="middle" fill="#111">(e)</text>
<rect x="46.70" y="728.00" width="91.20" height="59.80" fill="#8c8c8c"/>
<rect x="45.70" y="727.00" width="91.20" height="59.80" fill="#fff" stroke="#a8a8a8" stroke-width="0.8"/>
<path d="M47.40 735.10h27" stroke="#222222" stroke-width="0.7" opacity="0.75"/>
<rect x="58.75" y="732.95" width="4.30" height="4.30" fill="#080808"/>
<text x="78.40" y="739.40" font-size="12.3" fill="#111">j = 1.5 mm</text>
<path d="M47.40 750.00h27" stroke="#f53535" stroke-width="0.7" opacity="0.75"/>
<circle cx="60.90" cy="750.00" r="2.50" fill="#f30e0e"/>
<text x="78.40" y="754.30" font-size="12.3" fill="#111">j = 2.5 mm</text>
<path d="M47.40 764.40h27" stroke="#3030f0" stroke-width="0.7" opacity="0.75"/>
<path d="M57.85 766.60L63.95 766.60L60.90 761.40Z" fill="#0808ea"/>
<text x="78.40" y="768.70" font-size="12.3" fill="#111">j = 3.5 mm</text>
<path d="M47.40 780.00h27" stroke="#2f9494" stroke-width="0.7" opacity="0.75"/>
<path d="M57.85 777.80L63.95 777.80L60.90 783.00Z" fill="#0a6c6c"/>
<text x="78.40" y="784.30" font-size="12.3" fill="#111">j = 4.5 mm</text>
</g>
<g>
<path d="M398.40 767.62H672.00M398.40 747.24H672.00M398.40 726.86H672.00M398.40 706.48H672.00M398.40 686.10H672.00M398.40 665.72H672.00M398.40 645.34H672.00M398.40 624.96H672.00M398.40 604.58H672.00M459.20 584.20V788.00M520.00 584.20V788.00M580.80 584.20V788.00M641.60 584.20V788.00" stroke="#c6c6c6" stroke-width="0.75" stroke-dasharray="1.1 1.5" fill="none"/>
<path d="M398.40 584.20H672.00V788.00" fill="none" stroke="#3a3a3a" stroke-width="1.25"/>
<path d="M398.40 583.60V788.00H672.60" fill="none" stroke="#383838" stroke-width="1.55"/>
<clipPath id="cp5"><path d="M397.60 583.40H672.80V788.80H399.40V727.00H397.60Z"/></clipPath>
<g clip-path="url(#cp5)">
<polyline points="398.40,743.78 404.48,739.09 410.56,733.99 416.64,728.69 422.72,723.40 428.80,718.10 434.88,711.98 440.96,706.28 447.04,699.96 453.12,693.84 459.20,687.12 465.28,680.19 471.36,672.45 477.44,663.68 483.52,655.33 489.60,646.97 495.68,639.02 501.76,631.48 507.84,624.14 513.92,616.81 520.00,610.29 526.08,603.97 532.16,598.26 538.24,593.57 544.32,590.11 550.40,587.26 556.48,586.24 562.56,585.83 568.64,586.24 574.72,587.66 580.80,590.11 586.88,592.15 592.96,593.57 599.04,597.04 605.12,600.30 611.20,604.58 617.28,609.47 623.36,614.36 629.44,619.05 635.52,623.74 641.60,628.42 647.68,633.11 653.76,637.80 659.84,642.08 665.92,646.16 672.00,650.84" fill="none" stroke="#222222" stroke-width="0.65"/>
<rect x="396.25" y="741.63" width="4.30" height="4.30" fill="#080808"/>
<rect x="402.33" y="736.94" width="4.30" height="4.30" fill="#080808"/>
<rect x="408.41" y="731.84" width="4.30" height="4.30" fill="#080808"/>
<rect x="414.49" y="726.54" width="4.30" height="4.30" fill="#080808"/>
<rect x="420.57" y="721.25" width="4.30" height="4.30" fill="#080808"/>
<rect x="426.65" y="715.95" width="4.30" height="4.30" fill="#080808"/>
<rect x="432.73" y="709.83" width="4.30" height="4.30" fill="#080808"/>
<rect x="438.81" y="704.13" width="4.30" height="4.30" fill="#080808"/>
<rect x="444.89" y="697.81" width="4.30" height="4.30" fill="#080808"/>
<rect x="450.97" y="691.69" width="4.30" height="4.30" fill="#080808"/>
<rect x="457.05" y="684.97" width="4.30" height="4.30" fill="#080808"/>
<rect x="463.13" y="678.04" width="4.30" height="4.30" fill="#080808"/>
<rect x="469.21" y="670.30" width="4.30" height="4.30" fill="#080808"/>
<rect x="475.29" y="661.53" width="4.30" height="4.30" fill="#080808"/>
<rect x="481.37" y="653.18" width="4.30" height="4.30" fill="#080808"/>
<rect x="487.45" y="644.82" width="4.30" height="4.30" fill="#080808"/>
<rect x="493.53" y="636.87" width="4.30" height="4.30" fill="#080808"/>
<rect x="499.61" y="629.33" width="4.30" height="4.30" fill="#080808"/>
<rect x="505.69" y="621.99" width="4.30" height="4.30" fill="#080808"/>
<rect x="511.77" y="614.66" width="4.30" height="4.30" fill="#080808"/>
<rect x="517.85" y="608.14" width="4.30" height="4.30" fill="#080808"/>
<rect x="523.93" y="601.82" width="4.30" height="4.30" fill="#080808"/>
<rect x="530.01" y="596.11" width="4.30" height="4.30" fill="#080808"/>
<rect x="536.09" y="591.42" width="4.30" height="4.30" fill="#080808"/>
<rect x="542.17" y="587.96" width="4.30" height="4.30" fill="#080808"/>
<rect x="548.25" y="585.11" width="4.30" height="4.30" fill="#080808"/>
<rect x="554.33" y="584.09" width="4.30" height="4.30" fill="#080808"/>
<rect x="560.41" y="583.68" width="4.30" height="4.30" fill="#080808"/>
<rect x="566.49" y="584.09" width="4.30" height="4.30" fill="#080808"/>
<rect x="572.57" y="585.51" width="4.30" height="4.30" fill="#080808"/>
<rect x="578.65" y="587.96" width="4.30" height="4.30" fill="#080808"/>
<rect x="584.73" y="590.00" width="4.30" height="4.30" fill="#080808"/>
<rect x="590.81" y="591.42" width="4.30" height="4.30" fill="#080808"/>
<rect x="596.89" y="594.89" width="4.30" height="4.30" fill="#080808"/>
<rect x="602.97" y="598.15" width="4.30" height="4.30" fill="#080808"/>
<rect x="609.05" y="602.43" width="4.30" height="4.30" fill="#080808"/>
<rect x="615.13" y="607.32" width="4.30" height="4.30" fill="#080808"/>
<rect x="621.21" y="612.21" width="4.30" height="4.30" fill="#080808"/>
<rect x="627.29" y="616.90" width="4.30" height="4.30" fill="#080808"/>
<rect x="633.37" y="621.59" width="4.30" height="4.30" fill="#080808"/>
<rect x="639.45" y="626.27" width="4.30" height="4.30" fill="#080808"/>
<rect x="645.53" y="630.96" width="4.30" height="4.30" fill="#080808"/>
<rect x="651.61" y="635.65" width="4.30" height="4.30" fill="#080808"/>
<rect x="657.69" y="639.93" width="4.30" height="4.30" fill="#080808"/>
<rect x="663.77" y="644.01" width="4.30" height="4.30" fill="#080808"/>
<rect x="669.85" y="648.69" width="4.30" height="4.30" fill="#080808"/>
<polyline points="398.40,733.99 404.48,728.90 410.56,723.80 416.64,718.50 422.72,713.00 428.80,707.50 434.88,701.38 440.96,694.66 447.04,687.73 453.12,680.39 459.20,673.06 465.28,665.11 471.36,657.16 477.44,649.21 483.52,641.26 489.60,633.32 495.68,626.18 501.76,618.85 507.84,612.12 513.92,606.01 520.00,600.71 526.08,596.22 532.16,592.96 538.24,589.30 544.32,587.26 550.40,586.24 556.48,586.24 562.56,586.65 568.64,587.87 574.72,589.30 580.80,590.52 586.88,591.54 592.96,594.19 599.04,598.06 605.12,602.54 611.20,607.43 617.28,612.12 623.36,617.42 629.44,622.51 635.52,627.81 641.60,632.50 647.68,636.78 653.76,640.25 659.84,643.30 665.92,645.95 672.00,648.60" fill="none" stroke="#f53535" stroke-width="0.65"/>
<circle cx="398.40" cy="733.99" r="2.50" fill="#f30e0e"/>
<circle cx="404.48" cy="728.90" r="2.50" fill="#f30e0e"/>
<circle cx="410.56" cy="723.80" r="2.50" fill="#f30e0e"/>
<circle cx="416.64" cy="718.50" r="2.50" fill="#f30e0e"/>
<circle cx="422.72" cy="713.00" r="2.50" fill="#f30e0e"/>
<circle cx="428.80" cy="707.50" r="2.50" fill="#f30e0e"/>
<circle cx="434.88" cy="701.38" r="2.50" fill="#f30e0e"/>
<circle cx="440.96" cy="694.66" r="2.50" fill="#f30e0e"/>
<circle cx="447.04" cy="687.73" r="2.50" fill="#f30e0e"/>
<circle cx="453.12" cy="680.39" r="2.50" fill="#f30e0e"/>
<circle cx="459.20" cy="673.06" r="2.50" fill="#f30e0e"/>
<circle cx="465.28" cy="665.11" r="2.50" fill="#f30e0e"/>
<circle cx="471.36" cy="657.16" r="2.50" fill="#f30e0e"/>
<circle cx="477.44" cy="649.21" r="2.50" fill="#f30e0e"/>
<circle cx="483.52" cy="641.26" r="2.50" fill="#f30e0e"/>
<circle cx="489.60" cy="633.32" r="2.50" fill="#f30e0e"/>
<circle cx="495.68" cy="626.18" r="2.50" fill="#f30e0e"/>
<circle cx="501.76" cy="618.85" r="2.50" fill="#f30e0e"/>
<circle cx="507.84" cy="612.12" r="2.50" fill="#f30e0e"/>
<circle cx="513.92" cy="606.01" r="2.50" fill="#f30e0e"/>
<circle cx="520.00" cy="600.71" r="2.50" fill="#f30e0e"/>
<circle cx="526.08" cy="596.22" r="2.50" fill="#f30e0e"/>
<circle cx="532.16" cy="592.96" r="2.50" fill="#f30e0e"/>
<circle cx="538.24" cy="589.30" r="2.50" fill="#f30e0e"/>
<circle cx="544.32" cy="587.26" r="2.50" fill="#f30e0e"/>
<circle cx="550.40" cy="586.24" r="2.50" fill="#f30e0e"/>
<circle cx="556.48" cy="586.24" r="2.50" fill="#f30e0e"/>
<circle cx="562.56" cy="586.65" r="2.50" fill="#f30e0e"/>
<circle cx="568.64" cy="587.87" r="2.50" fill="#f30e0e"/>
<circle cx="574.72" cy="589.30" r="2.50" fill="#f30e0e"/>
<circle cx="580.80" cy="590.52" r="2.50" fill="#f30e0e"/>
<circle cx="586.88" cy="591.54" r="2.50" fill="#f30e0e"/>
<circle cx="592.96" cy="594.19" r="2.50" fill="#f30e0e"/>
<circle cx="599.04" cy="598.06" r="2.50" fill="#f30e0e"/>
<circle cx="605.12" cy="602.54" r="2.50" fill="#f30e0e"/>
<circle cx="611.20" cy="607.43" r="2.50" fill="#f30e0e"/>
<circle cx="617.28" cy="612.12" r="2.50" fill="#f30e0e"/>
<circle cx="623.36" cy="617.42" r="2.50" fill="#f30e0e"/>
<circle cx="629.44" cy="622.51" r="2.50" fill="#f30e0e"/>
<circle cx="635.52" cy="627.81" r="2.50" fill="#f30e0e"/>
<circle cx="641.60" cy="632.50" r="2.50" fill="#f30e0e"/>
<circle cx="647.68" cy="636.78" r="2.50" fill="#f30e0e"/>
<circle cx="653.76" cy="640.25" r="2.50" fill="#f30e0e"/>
<circle cx="659.84" cy="643.30" r="2.50" fill="#f30e0e"/>
<circle cx="665.92" cy="645.95" r="2.50" fill="#f30e0e"/>
<circle cx="672.00" cy="648.60" r="2.50" fill="#f30e0e"/>
<polyline points="398.40,721.56 404.48,716.06 410.56,710.76 416.64,705.05 422.72,699.35 428.80,692.83 434.88,686.30 440.96,679.37 447.04,672.45 453.12,665.11 459.20,657.98 465.28,650.64 471.36,642.89 477.44,635.56 483.52,628.22 489.60,621.09 495.68,614.97 501.76,608.66 507.84,603.36 513.92,598.26 520.00,594.59 526.08,591.54 532.16,588.89 538.24,587.26 544.32,586.65 550.40,587.26 556.48,588.89 562.56,591.54 568.64,593.57 574.72,594.19 580.80,590.52 586.88,587.26 592.96,593.57 599.04,600.71 605.12,608.66 611.20,615.38 617.28,621.09 623.36,626.79 629.44,631.48 635.52,636.17 641.60,640.25 647.68,644.32 653.76,648.19 659.84,651.66 665.92,654.71 672.00,657.98" fill="none" stroke="#3030f0" stroke-width="0.65"/>
<path d="M395.35 723.76L401.45 723.76L398.40 718.56Z" fill="#0808ea"/>
<path d="M401.43 718.26L407.53 718.26L404.48 713.06Z" fill="#0808ea"/>
<path d="M407.51 712.96L413.61 712.96L410.56 707.76Z" fill="#0808ea"/>
<path d="M413.59 707.25L419.69 707.25L416.64 702.05Z" fill="#0808ea"/>
<path d="M419.67 701.55L425.77 701.55L422.72 696.35Z" fill="#0808ea"/>
<path d="M425.75 695.03L431.85 695.03L428.80 689.83Z" fill="#0808ea"/>
<path d="M431.83 688.50L437.93 688.50L434.88 683.30Z" fill="#0808ea"/>
<path d="M437.91 681.57L444.01 681.57L440.96 676.37Z" fill="#0808ea"/>
<path d="M443.99 674.65L450.09 674.65L447.04 669.45Z" fill="#0808ea"/>
<path d="M450.07 667.31L456.17 667.31L453.12 662.11Z" fill="#0808ea"/>
<path d="M456.15 660.18L462.25 660.18L459.20 654.98Z" fill="#0808ea"/>
<path d="M462.23 652.84L468.33 652.84L465.28 647.64Z" fill="#0808ea"/>
<path d="M468.31 645.09L474.41 645.09L471.36 639.89Z" fill="#0808ea"/>
<path d="M474.39 637.76L480.49 637.76L477.44 632.56Z" fill="#0808ea"/>
<path d="M480.47 630.42L486.57 630.42L483.52 625.22Z" fill="#0808ea"/>
<path d="M486.55 623.29L492.65 623.29L489.60 618.09Z" fill="#0808ea"/>
<path d="M492.63 617.17L498.73 617.17L495.68 611.97Z" fill="#0808ea"/>
<path d="M498.71 610.86L504.81 610.86L501.76 605.66Z" fill="#0808ea"/>
<path d="M504.79 605.56L510.89 605.56L507.84 600.36Z" fill="#0808ea"/>
<path d="M510.87 600.46L516.97 600.46L513.92 595.26Z" fill="#0808ea"/>
<path d="M516.95 596.79L523.05 596.79L520.00 591.59Z" fill="#0808ea"/>
<path d="M523.03 593.74L529.13 593.74L526.08 588.54Z" fill="#0808ea"/>
<path d="M529.11 591.09L535.21 591.09L532.16 585.89Z" fill="#0808ea"/>
<path d="M535.19 589.46L541.29 589.46L538.24 584.26Z" fill="#0808ea"/>
<path d="M541.27 588.85L547.37 588.85L544.32 583.65Z" fill="#0808ea"/>
<path d="M547.35 589.46L553.45 589.46L550.40 584.26Z" fill="#0808ea"/>
<path d="M553.43 591.09L559.53 591.09L556.48 585.89Z" fill="#0808ea"/>
<path d="M559.51 593.74L565.61 593.74L562.56 588.54Z" fill="#0808ea"/>
<path d="M565.59 595.77L571.69 595.77L568.64 590.57Z" fill="#0808ea"/>
<path d="M571.67 596.39L577.77 596.39L574.72 591.19Z" fill="#0808ea"/>
<path d="M577.75 592.72L583.85 592.72L580.80 587.52Z" fill="#0808ea"/>
<path d="M583.83 589.46L589.93 589.46L586.88 584.26Z" fill="#0808ea"/>
<path d="M589.91 595.77L596.01 595.77L592.96 590.57Z" fill="#0808ea"/>
<path d="M595.99 602.91L602.09 602.91L599.04 597.71Z" fill="#0808ea"/>
<path d="M602.07 610.86L608.17 610.86L605.12 605.66Z" fill="#0808ea"/>
<path d="M608.15 617.58L614.25 617.58L611.20 612.38Z" fill="#0808ea"/>
<path d="M614.23 623.29L620.33 623.29L617.28 618.09Z" fill="#0808ea"/>
<path d="M620.31 628.99L626.41 628.99L623.36 623.79Z" fill="#0808ea"/>
<path d="M626.39 633.68L632.49 633.68L629.44 628.48Z" fill="#0808ea"/>
<path d="M632.47 638.37L638.57 638.37L635.52 633.17Z" fill="#0808ea"/>
<path d="M638.55 642.45L644.65 642.45L641.60 637.25Z" fill="#0808ea"/>
<path d="M644.63 646.52L650.73 646.52L647.68 641.32Z" fill="#0808ea"/>
<path d="M650.71 650.39L656.81 650.39L653.76 645.19Z" fill="#0808ea"/>
<path d="M656.79 653.86L662.89 653.86L659.84 648.66Z" fill="#0808ea"/>
<path d="M662.87 656.91L668.97 656.91L665.92 651.71Z" fill="#0808ea"/>
<path d="M668.95 660.18L675.05 660.18L672.00 654.98Z" fill="#0808ea"/>
<polyline points="398.40,720.95 404.48,715.45 410.56,710.15 416.64,704.44 422.72,698.74 428.80,692.21 434.88,685.69 440.96,678.76 447.04,671.83 453.12,664.50 459.20,657.36 465.28,650.03 471.36,642.28 477.44,634.95 483.52,627.61 489.60,620.68 495.68,614.57 501.76,608.25 507.84,603.15 513.92,598.26 520.00,594.59 526.08,591.74 532.16,589.30 538.24,587.87 544.32,588.89 550.40,590.52 556.48,592.96 562.56,595.61 568.64,597.65 574.72,598.67 580.80,591.54 586.88,586.24 592.96,593.57 599.04,603.36 605.12,611.51 611.20,619.87 617.28,627.41 623.36,633.93 629.44,639.63 635.52,644.73 641.60,648.60 647.68,650.23 653.76,648.60 659.84,645.34 665.92,640.86 672.00,633.93" fill="none" stroke="#2f9494" stroke-width="0.65"/>
<path d="M395.35 718.75L401.45 718.75L398.40 723.95Z" fill="#0a6c6c"/>
<path d="M401.43 713.25L407.53 713.25L404.48 718.45Z" fill="#0a6c6c"/>
<path d="M407.51 707.95L413.61 707.95L410.56 713.15Z" fill="#0a6c6c"/>
<path d="M413.59 702.24L419.69 702.24L416.64 707.44Z" fill="#0a6c6c"/>
<path d="M419.67 696.54L425.77 696.54L422.72 701.74Z" fill="#0a6c6c"/>
<path d="M425.75 690.01L431.85 690.01L428.80 695.21Z" fill="#0a6c6c"/>
<path d="M431.83 683.49L437.93 683.49L434.88 688.69Z" fill="#0a6c6c"/>
<path d="M437.91 676.56L444.01 676.56L440.96 681.76Z" fill="#0a6c6c"/>
<path d="M443.99 669.63L450.09 669.63L447.04 674.83Z" fill="#0a6c6c"/>
<path d="M450.07 662.30L456.17 662.30L453.12 667.50Z" fill="#0a6c6c"/>
<path d="M456.15 655.16L462.25 655.16L459.20 660.36Z" fill="#0a6c6c"/>
<path d="M462.23 647.83L468.33 647.83L465.28 653.03Z" fill="#0a6c6c"/>
<path d="M468.31 640.08L474.41 640.08L471.36 645.28Z" fill="#0a6c6c"/>
<path d="M474.39 632.75L480.49 632.75L477.44 637.95Z" fill="#0a6c6c"/>
<path d="M480.47 625.41L486.57 625.41L483.52 630.61Z" fill="#0a6c6c"/>
<path d="M486.55 618.48L492.65 618.48L489.60 623.68Z" fill="#0a6c6c"/>
<path d="M492.63 612.37L498.73 612.37L495.68 617.57Z" fill="#0a6c6c"/>
<path d="M498.71 606.05L504.81 606.05L501.76 611.25Z" fill="#0a6c6c"/>
<path d="M504.79 600.95L510.89 600.95L507.84 606.15Z" fill="#0a6c6c"/>
<path d="M510.87 596.06L516.97 596.06L513.92 601.26Z" fill="#0a6c6c"/>
<path d="M516.95 592.39L523.05 592.39L520.00 597.59Z" fill="#0a6c6c"/>
<path d="M523.03 589.54L529.13 589.54L526.08 594.74Z" fill="#0a6c6c"/>
<path d="M529.11 587.10L535.21 587.10L532.16 592.30Z" fill="#0a6c6c"/>
<path d="M535.19 585.67L541.29 585.67L538.24 590.87Z" fill="#0a6c6c"/>
<path d="M541.27 586.69L547.37 586.69L544.32 591.89Z" fill="#0a6c6c"/>
<path d="M547.35 588.32L553.45 588.32L550.40 593.52Z" fill="#0a6c6c"/>
<path d="M553.43 590.76L559.53 590.76L556.48 595.96Z" fill="#0a6c6c"/>
<path d="M559.51 593.41L565.61 593.41L562.56 598.61Z" fill="#0a6c6c"/>
<path d="M565.59 595.45L571.69 595.45L568.64 600.65Z" fill="#0a6c6c"/>
<path d="M571.67 596.47L577.77 596.47L574.72 601.67Z" fill="#0a6c6c"/>
<path d="M577.75 589.34L583.85 589.34L580.80 594.54Z" fill="#0a6c6c"/>
<path d="M583.83 584.04L589.93 584.04L586.88 589.24Z" fill="#0a6c6c"/>
<path d="M589.91 591.37L596.01 591.37L592.96 596.57Z" fill="#0a6c6c"/>
<path d="M595.99 601.16L602.09 601.16L599.04 606.36Z" fill="#0a6c6c"/>
<path d="M602.07 609.31L608.17 609.31L605.12 614.51Z" fill="#0a6c6c"/>
<path d="M608.15 617.66L614.25 617.66L611.20 622.87Z" fill="#0a6c6c"/>
<path d="M614.23 625.21L620.33 625.21L617.28 630.41Z" fill="#0a6c6c"/>
<path d="M620.31 631.73L626.41 631.73L623.36 636.93Z" fill="#0a6c6c"/>
<path d="M626.39 637.43L632.49 637.43L629.44 642.63Z" fill="#0a6c6c"/>
<path d="M632.47 642.53L638.57 642.53L635.52 647.73Z" fill="#0a6c6c"/>
<path d="M638.55 646.40L644.65 646.40L641.60 651.60Z" fill="#0a6c6c"/>
<path d="M644.63 648.03L650.73 648.03L647.68 653.23Z" fill="#0a6c6c"/>
<path d="M650.71 646.40L656.81 646.40L653.76 651.60Z" fill="#0a6c6c"/>
<path d="M656.79 643.14L662.89 643.14L659.84 648.34Z" fill="#0a6c6c"/>
<path d="M662.87 638.66L668.97 638.66L665.92 643.86Z" fill="#0a6c6c"/>
<path d="M668.95 631.73L675.05 631.73L672.00 636.93Z" fill="#0a6c6c"/>
</g>
<path d="M398.40 788.00h-3.8M398.40 777.81h-2.0M398.40 767.62h-3.8M398.40 757.43h-2.0M398.40 747.24h-3.8M398.40 737.05h-2.0M398.40 726.86h-3.8M398.40 716.67h-2.0M398.40 706.48h-3.8M398.40 696.29h-2.0M398.40 686.10h-3.8M398.40 675.91h-2.0M398.40 665.72h-3.8M398.40 655.53h-2.0M398.40 645.34h-3.8M398.40 635.15h-2.0M398.40 624.96h-3.8M398.40 614.77h-2.0M398.40 604.58h-3.8M398.40 594.39h-2.0M398.40 584.20h-3.8M398.40 788.00v3.8M428.80 788.00v2.0M459.20 788.00v3.8M489.60 788.00v2.0M520.00 788.00v3.8M550.40 788.00v2.0M580.80 788.00v3.8M611.20 788.00v2.0M641.60 788.00v3.8M672.00 788.00v2.0" stroke="#383838" stroke-width="1.3" fill="none"/>
<text transform="translate(391.00 790.00) scale(0.87 1)" font-size="8.3" text-anchor="end" fill="#111">0</text>
<text transform="translate(391.00 769.62) scale(0.87 1)" font-size="8.3" text-anchor="end" fill="#111">10</text>
<text transform="translate(391.00 749.24) scale(0.87 1)" font-size="8.3" text-anchor="end" fill="#111">20</text>
<text transform="translate(391.00 728.86) scale(0.87 1)" font-size="8.3" text-anchor="end" fill="#111">30</text>
<text transform="translate(391.00 708.48) scale(0.87 1)" font-size="8.3" text-anchor="end" fill="#111">40</text>
<text transform="translate(391.00 688.10) scale(0.87 1)" font-size="8.3" text-anchor="end" fill="#111">50</text>
<text transform="translate(391.00 667.72) scale(0.87 1)" font-size="8.3" text-anchor="end" fill="#111">60</text>
<text transform="translate(391.00 647.34) scale(0.87 1)" font-size="8.3" text-anchor="end" fill="#111">70</text>
<text transform="translate(391.00 626.96) scale(0.87 1)" font-size="8.3" text-anchor="end" fill="#111">80</text>
<text transform="translate(391.00 606.58) scale(0.87 1)" font-size="8.3" text-anchor="end" fill="#111">90</text>
<text transform="translate(391.00 586.20) scale(0.87 1)" font-size="8.3" text-anchor="end" fill="#111">100</text>
<text transform="translate(398.40 800.70) scale(0.87 1)" font-size="8.3" text-anchor="middle" fill="#111">7</text>
<text transform="translate(459.20 800.70) scale(0.87 1)" font-size="8.3" text-anchor="middle" fill="#111">8</text>
<text transform="translate(520.00 800.70) scale(0.87 1)" font-size="8.3" text-anchor="middle" fill="#111">9</text>
<text transform="translate(580.80 800.70) scale(0.87 1)" font-size="8.3" text-anchor="middle" fill="#111">10</text>
<text transform="translate(641.60 800.70) scale(0.87 1)" font-size="8.3" text-anchor="middle" fill="#111">11</text>
<text x="533.70" y="580.20" font-size="12.2" text-anchor="middle" fill="#111">OFF state</text>
<text x="535.00" y="818.90" font-size="11.4" text-anchor="middle" fill="#111">Frequency (GHz)</text>
<text transform="translate(369.80 693.70) rotate(-90)" font-size="12.2" text-anchor="middle" fill="#111">Absorptivity (%)</text>
<text x="531.50" y="839.00" font-size="19.5" font-weight="bold" style='font-family:"Liberation Serif", "Times New Roman", serif' text-anchor="middle" fill="#111">(f)</text>
<rect x="398.30" y="728.00" width="91.20" height="59.80" fill="#8c8c8c"/>
<rect x="397.30" y="727.00" width="91.20" height="59.80" fill="#fff" stroke="#a8a8a8" stroke-width="0.8"/>
<path d="M399.00 735.10h27" stroke="#222222" stroke-width="0.7" opacity="0.75"/>
<rect x="410.35" y="732.95" width="4.30" height="4.30" fill="#080808"/>
<text x="430.00" y="739.40" font-size="12.3" fill="#111">j = 1.5 mm</text>
<path d="M399.00 750.00h27" stroke="#f53535" stroke-width="0.7" opacity="0.75"/>
<circle cx="412.50" cy="750.00" r="2.50" fill="#f30e0e"/>
<text x="430.00" y="754.30" font-size="12.3" fill="#111">j = 2.5 mm</text>
<path d="M399.00 764.40h27" stroke="#3030f0" stroke-width="0.7" opacity="0.75"/>
<path d="M409.45 766.60L415.55 766.60L412.50 761.40Z" fill="#0808ea"/>
<text x="430.00" y="768.70" font-size="12.3" fill="#111">j = 3.5 mm</text>
<path d="M399.00 780.00h27" stroke="#2f9494" stroke-width="0.7" opacity="0.75"/>
<path d="M409.45 777.80L415.55 777.80L412.50 783.00Z" fill="#0a6c6c"/>
<text x="430.00" y="784.30" font-size="12.3" fill="#111">j = 4.5 mm</text>
</g>
<g>
<path d="M45.20 1051.62H318.80M45.20 1031.24H318.80M45.20 1010.86H318.80M45.20 990.48H318.80M45.20 970.10H318.80M45.20 949.72H318.80M45.20 929.34H318.80M45.20 908.96H318.80M45.20 888.58H318.80M106.00 868.20V1072.00M166.80 868.20V1072.00M227.60 868.20V1072.00M288.40 868.20V1072.00" stroke="#c6c6c6" stroke-width="0.75" stroke-dasharray="1.1 1.5" fill="none"/>
<path d="M45.20 868.20H318.80V1072.00" fill="none" stroke="#3a3a3a" stroke-width="1.25"/>
<path d="M45.20 867.60V1072.00H319.40" fill="none" stroke="#383838" stroke-width="1.55"/>
<clipPath id="cp6"><rect x="44.40" y="867.40" width="275.20" height="205.40"/></clipPath>
<g clip-path="url(#cp6)">
<polyline points="45.20,984.98 51.28,977.44 57.36,970.71 63.44,964.39 69.52,957.87 75.60,951.55 81.68,945.64 87.76,939.33 93.84,934.03 99.92,928.32 106.00,923.23 112.08,918.33 118.16,914.46 124.24,910.79 130.32,907.13 136.40,903.87 142.48,901.42 148.56,899.38 154.64,897.95 160.72,896.94 166.80,896.12 172.88,896.73 178.96,896.94 185.04,897.95 191.12,899.38 197.20,901.01 203.28,903.05 209.36,905.90 215.44,909.16 221.52,912.42 227.60,916.30 233.68,920.58 239.76,924.65 245.84,929.34 251.92,934.64 258.00,940.14 264.08,945.64 270.16,951.15 276.24,956.45 282.32,961.13 288.40,965.21 294.48,968.88 300.56,971.93 306.64,974.38 312.72,975.60 318.80,975.60" fill="none" stroke="#222222" stroke-width="0.65"/>
<rect x="43.05" y="982.83" width="4.30" height="4.30" fill="#080808"/>
<rect x="49.13" y="975.29" width="4.30" height="4.30" fill="#080808"/>
<rect x="55.21" y="968.56" width="4.30" height="4.30" fill="#080808"/>
<rect x="61.29" y="962.24" width="4.30" height="4.30" fill="#080808"/>
<rect x="67.37" y="955.72" width="4.30" height="4.30" fill="#080808"/>
<rect x="73.45" y="949.40" width="4.30" height="4.30" fill="#080808"/>
<rect x="79.53" y="943.49" width="4.30" height="4.30" fill="#080808"/>
<rect x="85.61" y="937.18" width="4.30" height="4.30" fill="#080808"/>
<rect x="91.69" y="931.88" width="4.30" height="4.30" fill="#080808"/>
<rect x="97.77" y="926.17" width="4.30" height="4.30" fill="#080808"/>
<rect x="103.85" y="921.08" width="4.30" height="4.30" fill="#080808"/>
<rect x="109.93" y="916.18" width="4.30" height="4.30" fill="#080808"/>
<rect x="116.01" y="912.31" width="4.30" height="4.30" fill="#080808"/>
<rect x="122.09" y="908.64" width="4.30" height="4.30" fill="#080808"/>
<rect x="128.17" y="904.98" width="4.30" height="4.30" fill="#080808"/>
<rect x="134.25" y="901.72" width="4.30" height="4.30" fill="#080808"/>
<rect x="140.33" y="899.27" width="4.30" height="4.30" fill="#080808"/>
<rect x="146.41" y="897.23" width="4.30" height="4.30" fill="#080808"/>
<rect x="152.49" y="895.80" width="4.30" height="4.30" fill="#080808"/>
<rect x="158.57" y="894.79" width="4.30" height="4.30" fill="#080808"/>
<rect x="164.65" y="893.97" width="4.30" height="4.30" fill="#080808"/>
<rect x="170.73" y="894.58" width="4.30" height="4.30" fill="#080808"/>
<rect x="176.81" y="894.79" width="4.30" height="4.30" fill="#080808"/>
<rect x="182.89" y="895.80" width="4.30" height="4.30" fill="#080808"/>
<rect x="188.97" y="897.23" width="4.30" height="4.30" fill="#080808"/>
<rect x="195.05" y="898.86" width="4.30" height="4.30" fill="#080808"/>
<rect x="201.13" y="900.90" width="4.30" height="4.30" fill="#080808"/>
<rect x="207.21" y="903.75" width="4.30" height="4.30" fill="#080808"/>
<rect x="213.29" y="907.01" width="4.30" height="4.30" fill="#080808"/>
<rect x="219.37" y="910.27" width="4.30" height="4.30" fill="#080808"/>
<rect x="225.45" y="914.15" width="4.30" height="4.30" fill="#080808"/>
<rect x="231.53" y="918.43" width="4.30" height="4.30" fill="#080808"/>
<rect x="237.61" y="922.50" width="4.30" height="4.30" fill="#080808"/>
<rect x="243.69" y="927.19" width="4.30" height="4.30" fill="#080808"/>
<rect x="249.77" y="932.49" width="4.30" height="4.30" fill="#080808"/>
<rect x="255.85" y="937.99" width="4.30" height="4.30" fill="#080808"/>
<rect x="261.93" y="943.49" width="4.30" height="4.30" fill="#080808"/>
<rect x="268.01" y="949.00" width="4.30" height="4.30" fill="#080808"/>
<rect x="274.09" y="954.30" width="4.30" height="4.30" fill="#080808"/>
<rect x="280.17" y="958.98" width="4.30" height="4.30" fill="#080808"/>
<rect x="286.25" y="963.06" width="4.30" height="4.30" fill="#080808"/>
<rect x="292.33" y="966.73" width="4.30" height="4.30" fill="#080808"/>
<rect x="298.41" y="969.78" width="4.30" height="4.30" fill="#080808"/>
<rect x="304.49" y="972.23" width="4.30" height="4.30" fill="#080808"/>
<rect x="310.57" y="973.45" width="4.30" height="4.30" fill="#080808"/>
<rect x="316.65" y="973.45" width="4.30" height="4.30" fill="#080808"/>
<polyline points="45.20,1013.92 51.28,1007.19 57.36,999.85 63.44,991.91 69.52,983.75 75.60,974.79 81.68,965.21 87.76,955.22 93.84,945.03 99.92,934.23 106.00,923.63 112.08,913.44 118.16,904.07 124.24,895.10 130.32,887.56 136.40,880.84 142.48,876.35 148.56,872.89 154.64,871.05 160.72,871.26 166.80,872.89 172.88,876.35 178.96,880.84 185.04,886.34 191.12,892.25 197.20,898.77 203.28,905.50 209.36,912.42 215.44,919.15 221.52,925.67 227.60,932.19 233.68,938.31 239.76,944.22 245.84,948.50 251.92,952.17 258.00,958.48 264.08,963.78 270.16,968.27 276.24,971.93 282.32,974.99 288.40,977.44 294.48,979.68 300.56,981.11 306.64,981.72 312.72,981.11 318.80,979.88" fill="none" stroke="#f53535" stroke-width="0.65"/>
<circle cx="45.20" cy="1013.92" r="2.50" fill="#f30e0e"/>
<circle cx="51.28" cy="1007.19" r="2.50" fill="#f30e0e"/>
<circle cx="57.36" cy="999.85" r="2.50" fill="#f30e0e"/>
<circle cx="63.44" cy="991.91" r="2.50" fill="#f30e0e"/>
<circle cx="69.52" cy="983.75" r="2.50" fill="#f30e0e"/>
<circle cx="75.60" cy="974.79" r="2.50" fill="#f30e0e"/>
<circle cx="81.68" cy="965.21" r="2.50" fill="#f30e0e"/>
<circle cx="87.76" cy="955.22" r="2.50" fill="#f30e0e"/>
<circle cx="93.84" cy="945.03" r="2.50" fill="#f30e0e"/>
<circle cx="99.92" cy="934.23" r="2.50" fill="#f30e0e"/>
<circle cx="106.00" cy="923.63" r="2.50" fill="#f30e0e"/>
<circle cx="112.08" cy="913.44" r="2.50" fill="#f30e0e"/>
<circle cx="118.16" cy="904.07" r="2.50" fill="#f30e0e"/>
<circle cx="124.24" cy="895.10" r="2.50" fill="#f30e0e"/>
<circle cx="130.32" cy="887.56" r="2.50" fill="#f30e0e"/>
<circle cx="136.40" cy="880.84" r="2.50" fill="#f30e0e"/>
<circle cx="142.48" cy="876.35" r="2.50" fill="#f30e0e"/>
<circle cx="148.56" cy="872.89" r="2.50" fill="#f30e0e"/>
<circle cx="154.64" cy="871.05" r="2.50" fill="#f30e0e"/>
<circle cx="160.72" cy="871.26" r="2.50" fill="#f30e0e"/>
<circle cx="166.80" cy="872.89" r="2.50" fill="#f30e0e"/>
<circle cx="172.88" cy="876.35" r="2.50" fill="#f30e0e"/>
<circle cx="178.96" cy="880.84" r="2.50" fill="#f30e0e"/>
<circle cx="185.04" cy="886.34" r="2.50" fill="#f30e0e"/>
<circle cx="191.12" cy="892.25" r="2.50" fill="#f30e0e"/>
<circle cx="197.20" cy="898.77" r="2.50" fill="#f30e0e"/>
<circle cx="203.28" cy="905.50" r="2.50" fill="#f30e0e"/>
<circle cx="209.36" cy="912.42" r="2.50" fill="#f30e0e"/>
<circle cx="215.44" cy="919.15" r="2.50" fill="#f30e0e"/>
<circle cx="221.52" cy="925.67" r="2.50" fill="#f30e0e"/>
<circle cx="227.60" cy="932.19" r="2.50" fill="#f30e0e"/>
<circle cx="233.68" cy="938.31" r="2.50" fill="#f30e0e"/>
<circle cx="239.76" cy="944.22" r="2.50" fill="#f30e0e"/>
<circle cx="245.84" cy="948.50" r="2.50" fill="#f30e0e"/>
<circle cx="251.92" cy="952.17" r="2.50" fill="#f30e0e"/>
<circle cx="258.00" cy="958.48" r="2.50" fill="#f30e0e"/>
<circle cx="264.08" cy="963.78" r="2.50" fill="#f30e0e"/>
<circle cx="270.16" cy="968.27" r="2.50" fill="#f30e0e"/>
<circle cx="276.24" cy="971.93" r="2.50" fill="#f30e0e"/>
<circle cx="282.32" cy="974.99" r="2.50" fill="#f30e0e"/>
<circle cx="288.40" cy="977.44" r="2.50" fill="#f30e0e"/>
<circle cx="294.48" cy="979.68" r="2.50" fill="#f30e0e"/>
<circle cx="300.56" cy="981.11" r="2.50" fill="#f30e0e"/>
<circle cx="306.64" cy="981.72" r="2.50" fill="#f30e0e"/>
<circle cx="312.72" cy="981.11" r="2.50" fill="#f30e0e"/>
<circle cx="318.80" cy="979.88" r="2.50" fill="#f30e0e"/>
<polyline points="45.20,1041.84 51.28,1044.49 57.36,1041.43 63.44,1036.34 69.52,1030.22 75.60,1023.09 81.68,1010.25 87.76,1000.87 93.84,990.68 99.92,979.68 106.00,966.84 112.08,952.57 118.16,938.71 124.24,924.25 130.32,910.79 136.40,899.38 142.48,890.01 148.56,884.71 154.64,883.28 160.72,885.52 166.80,890.01 172.88,897.75 178.96,906.11 185.04,917.52 191.12,926.69 197.20,935.66 203.28,944.62 209.36,952.57 215.44,959.91 221.52,966.43 227.60,971.93 233.68,976.21 239.76,979.68 245.84,983.35 251.92,986.00 258.00,988.65 264.08,991.09 270.16,993.54 276.24,995.37 282.32,996.39 288.40,997.00 294.48,997.00 300.56,996.39 306.64,995.37 312.72,992.72 318.80,989.05" fill="none" stroke="#3030f0" stroke-width="0.65"/>
<path d="M42.15 1044.04L48.25 1044.04L45.20 1038.84Z" fill="#0808ea"/>
<path d="M48.23 1046.69L54.33 1046.69L51.28 1041.49Z" fill="#0808ea"/>
<path d="M54.31 1043.63L60.41 1043.63L57.36 1038.43Z" fill="#0808ea"/>
<path d="M60.39 1038.54L66.49 1038.54L63.44 1033.34Z" fill="#0808ea"/>
<path d="M66.47 1032.42L72.57 1032.42L69.52 1027.22Z" fill="#0808ea"/>
<path d="M72.55 1025.29L78.65 1025.29L75.60 1020.09Z" fill="#0808ea"/>
<path d="M78.63 1012.45L84.73 1012.45L81.68 1007.25Z" fill="#0808ea"/>
<path d="M84.71 1003.07L90.81 1003.07L87.76 997.87Z" fill="#0808ea"/>
<path d="M90.79 992.88L96.89 992.88L93.84 987.68Z" fill="#0808ea"/>
<path d="M96.87 981.88L102.97 981.88L99.92 976.68Z" fill="#0808ea"/>
<path d="M102.95 969.04L109.05 969.04L106.00 963.84Z" fill="#0808ea"/>
<path d="M109.03 954.77L115.13 954.77L112.08 949.57Z" fill="#0808ea"/>
<path d="M115.11 940.91L121.21 940.91L118.16 935.71Z" fill="#0808ea"/>
<path d="M121.19 926.45L127.29 926.45L124.24 921.25Z" fill="#0808ea"/>
<path d="M127.27 912.99L133.37 912.99L130.32 907.79Z" fill="#0808ea"/>
<path d="M133.35 901.58L139.45 901.58L136.40 896.38Z" fill="#0808ea"/>
<path d="M139.43 892.21L145.53 892.21L142.48 887.01Z" fill="#0808ea"/>
<path d="M145.51 886.91L151.61 886.91L148.56 881.71Z" fill="#0808ea"/>
<path d="M151.59 885.48L157.69 885.48L154.64 880.28Z" fill="#0808ea"/>
<path d="M157.67 887.72L163.77 887.72L160.72 882.52Z" fill="#0808ea"/>
<path d="M163.75 892.21L169.85 892.21L166.80 887.01Z" fill="#0808ea"/>
<path d="M169.83 899.95L175.93 899.95L172.88 894.75Z" fill="#0808ea"/>
<path d="M175.91 908.31L182.01 908.31L178.96 903.11Z" fill="#0808ea"/>
<path d="M181.99 919.72L188.09 919.72L185.04 914.52Z" fill="#0808ea"/>
<path d="M188.07 928.89L194.17 928.89L191.12 923.69Z" fill="#0808ea"/>
<path d="M194.15 937.86L200.25 937.86L197.20 932.66Z" fill="#0808ea"/>
<path d="M200.23 946.83L206.33 946.83L203.28 941.62Z" fill="#0808ea"/>
<path d="M206.31 954.77L212.41 954.77L209.36 949.57Z" fill="#0808ea"/>
<path d="M212.39 962.11L218.49 962.11L215.44 956.91Z" fill="#0808ea"/>
<path d="M218.47 968.63L224.57 968.63L221.52 963.43Z" fill="#0808ea"/>
<path d="M224.55 974.13L230.65 974.13L227.60 968.93Z" fill="#0808ea"/>
<path d="M230.63 978.41L236.73 978.41L233.68 973.21Z" fill="#0808ea"/>
<path d="M236.71 981.88L242.81 981.88L239.76 976.68Z" fill="#0808ea"/>
<path d="M242.79 985.55L248.89 985.55L245.84 980.35Z" fill="#0808ea"/>
<path d="M248.87 988.20L254.97 988.20L251.92 983.00Z" fill="#0808ea"/>
<path d="M254.95 990.85L261.05 990.85L258.00 985.65Z" fill="#0808ea"/>
<path d="M261.03 993.29L267.13 993.29L264.08 988.09Z" fill="#0808ea"/>
<path d="M267.11 995.74L273.21 995.74L270.16 990.54Z" fill="#0808ea"/>
<path d="M273.19 997.57L279.29 997.57L276.24 992.37Z" fill="#0808ea"/>
<path d="M279.27 998.59L285.37 998.59L282.32 993.39Z" fill="#0808ea"/>
<path d="M285.35 999.20L291.45 999.20L288.40 994.00Z" fill="#0808ea"/>
<path d="M291.43 999.20L297.53 999.20L294.48 994.00Z" fill="#0808ea"/>
<path d="M297.51 998.59L303.61 998.59L300.56 993.39Z" fill="#0808ea"/>
<path d="M303.59 997.57L309.69 997.57L306.64 992.37Z" fill="#0808ea"/>
<path d="M309.67 994.92L315.77 994.92L312.72 989.72Z" fill="#0808ea"/>
<path d="M315.75 991.25L321.85 991.25L318.80 986.05Z" fill="#0808ea"/>
<polyline points="45.20,1055.70 51.28,1053.66 57.36,1050.60 63.44,1047.54 69.52,1043.47 75.60,1038.37 81.68,1032.26 87.76,1026.14 93.84,1019.01 99.92,1010.25 106.00,1001.08 112.08,990.48 118.16,979.27 124.24,966.84 130.32,953.39 136.40,940.75 142.48,928.32 148.56,917.52 154.64,909.78 160.72,905.09 166.80,904.48 172.88,906.51 178.96,911.41 185.04,917.93 191.12,926.89 197.20,935.86 203.28,944.83 209.36,952.78 215.44,960.11 221.52,966.84 227.60,972.95 233.68,977.84 239.76,981.92 245.84,983.55 251.92,978.25 258.00,982.94 264.08,990.07 270.16,993.74 276.24,996.39 282.32,997.82 288.40,998.84 294.48,998.84 300.56,998.43 306.64,997.41 312.72,995.78 318.80,992.52" fill="none" stroke="#2f9494" stroke-width="0.65"/>
<path d="M42.15 1053.50L48.25 1053.50L45.20 1058.70Z" fill="#0a6c6c"/>
<path d="M48.23 1051.46L54.33 1051.46L51.28 1056.66Z" fill="#0a6c6c"/>
<path d="M54.31 1048.40L60.41 1048.40L57.36 1053.60Z" fill="#0a6c6c"/>
<path d="M60.39 1045.34L66.49 1045.34L63.44 1050.54Z" fill="#0a6c6c"/>
<path d="M66.47 1041.27L72.57 1041.27L69.52 1046.47Z" fill="#0a6c6c"/>
<path d="M72.55 1036.17L78.65 1036.17L75.60 1041.37Z" fill="#0a6c6c"/>
<path d="M78.63 1030.06L84.73 1030.06L81.68 1035.26Z" fill="#0a6c6c"/>
<path d="M84.71 1023.94L90.81 1023.94L87.76 1029.14Z" fill="#0a6c6c"/>
<path d="M90.79 1016.81L96.89 1016.81L93.84 1022.01Z" fill="#0a6c6c"/>
<path d="M96.87 1008.05L102.97 1008.05L99.92 1013.25Z" fill="#0a6c6c"/>
<path d="M102.95 998.88L109.05 998.88L106.00 1004.08Z" fill="#0a6c6c"/>
<path d="M109.03 988.28L115.13 988.28L112.08 993.48Z" fill="#0a6c6c"/>
<path d="M115.11 977.07L121.21 977.07L118.16 982.27Z" fill="#0a6c6c"/>
<path d="M121.19 964.64L127.29 964.64L124.24 969.84Z" fill="#0a6c6c"/>
<path d="M127.27 951.19L133.37 951.19L130.32 956.39Z" fill="#0a6c6c"/>
<path d="M133.35 938.55L139.45 938.55L136.40 943.75Z" fill="#0a6c6c"/>
<path d="M139.43 926.12L145.53 926.12L142.48 931.32Z" fill="#0a6c6c"/>
<path d="M145.51 915.32L151.61 915.32L148.56 920.52Z" fill="#0a6c6c"/>
<path d="M151.59 907.58L157.69 907.58L154.64 912.78Z" fill="#0a6c6c"/>
<path d="M157.67 902.89L163.77 902.89L160.72 908.09Z" fill="#0a6c6c"/>
<path d="M163.75 902.28L169.85 902.28L166.80 907.48Z" fill="#0a6c6c"/>
<path d="M169.83 904.31L175.93 904.31L172.88 909.51Z" fill="#0a6c6c"/>
<path d="M175.91 909.21L182.01 909.21L178.96 914.41Z" fill="#0a6c6c"/>
<path d="M181.99 915.73L188.09 915.73L185.04 920.93Z" fill="#0a6c6c"/>
<path d="M188.07 924.69L194.17 924.69L191.12 929.89Z" fill="#0a6c6c"/>
<path d="M194.15 933.66L200.25 933.66L197.20 938.86Z" fill="#0a6c6c"/>
<path d="M200.23 942.63L206.33 942.63L203.28 947.83Z" fill="#0a6c6c"/>
<path d="M206.31 950.58L212.41 950.58L209.36 955.78Z" fill="#0a6c6c"/>
<path d="M212.39 957.91L218.49 957.91L215.44 963.11Z" fill="#0a6c6c"/>
<path d="M218.47 964.64L224.57 964.64L221.52 969.84Z" fill="#0a6c6c"/>
<path d="M224.55 970.75L230.65 970.75L227.60 975.95Z" fill="#0a6c6c"/>
<path d="M230.63 975.64L236.73 975.64L233.68 980.84Z" fill="#0a6c6c"/>
<path d="M236.71 979.72L242.81 979.72L239.76 984.92Z" fill="#0a6c6c"/>
<path d="M242.79 981.35L248.89 981.35L245.84 986.55Z" fill="#0a6c6c"/>
<path d="M248.87 976.05L254.97 976.05L251.92 981.25Z" fill="#0a6c6c"/>
<path d="M254.95 980.74L261.05 980.74L258.00 985.94Z" fill="#0a6c6c"/>
<path d="M261.03 987.87L267.13 987.87L264.08 993.07Z" fill="#0a6c6c"/>
<path d="M267.11 991.54L273.21 991.54L270.16 996.74Z" fill="#0a6c6c"/>
<path d="M273.19 994.19L279.29 994.19L276.24 999.39Z" fill="#0a6c6c"/>
<path d="M279.27 995.62L285.37 995.62L282.32 1000.82Z" fill="#0a6c6c"/>
<path d="M285.35 996.64L291.45 996.64L288.40 1001.84Z" fill="#0a6c6c"/>
<path d="M291.43 996.64L297.53 996.64L294.48 1001.84Z" fill="#0a6c6c"/>
<path d="M297.51 996.23L303.61 996.23L300.56 1001.43Z" fill="#0a6c6c"/>
<path d="M303.59 995.21L309.69 995.21L306.64 1000.41Z" fill="#0a6c6c"/>
<path d="M309.67 993.58L315.77 993.58L312.72 998.78Z" fill="#0a6c6c"/>
<path d="M315.75 990.32L321.85 990.32L318.80 995.52Z" fill="#0a6c6c"/>
</g>
<path d="M45.20 1072.00h-3.8M45.20 1061.81h-2.0M45.20 1051.62h-3.8M45.20 1041.43h-2.0M45.20 1031.24h-3.8M45.20 1021.05h-2.0M45.20 1010.86h-3.8M45.20 1000.67h-2.0M45.20 990.48h-3.8M45.20 980.29h-2.0M45.20 970.10h-3.8M45.20 959.91h-2.0M45.20 949.72h-3.8M45.20 939.53h-2.0M45.20 929.34h-3.8M45.20 919.15h-2.0M45.20 908.96h-3.8M45.20 898.77h-2.0M45.20 888.58h-3.8M45.20 878.39h-2.0M45.20 868.20h-3.8M45.20 1072.00v3.8M75.60 1072.00v2.0M106.00 1072.00v3.8M136.40 1072.00v2.0M166.80 1072.00v3.8M197.20 1072.00v2.0M227.60 1072.00v3.8M258.00 1072.00v2.0M288.40 1072.00v3.8M318.80 1072.00v2.0" stroke="#383838" stroke-width="1.3" fill="none"/>
<text transform="translate(37.80 1074.00) scale(0.87 1)" font-size="8.3" text-anchor="end" fill="#111">0</text>
<text transform="translate(37.80 1053.62) scale(0.87 1)" font-size="8.3" text-anchor="end" fill="#111">10</text>
<text transform="translate(37.80 1033.24) scale(0.87 1)" font-size="8.3" text-anchor="end" fill="#111">20</text>
<text transform="translate(37.80 1012.86) scale(0.87 1)" font-size="8.3" text-anchor="end" fill="#111">30</text>
<text transform="translate(37.80 992.48) scale(0.87 1)" font-size="8.3" text-anchor="end" fill="#111">40</text>
<text transform="translate(37.80 972.10) scale(0.87 1)" font-size="8.3" text-anchor="end" fill="#111">50</text>
<text transform="translate(37.80 951.72) scale(0.87 1)" font-size="8.3" text-anchor="end" fill="#111">60</text>
<text transform="translate(37.80 931.34) scale(0.87 1)" font-size="8.3" text-anchor="end" fill="#111">70</text>
<text transform="translate(37.80 910.96) scale(0.87 1)" font-size="8.3" text-anchor="end" fill="#111">80</text>
<text transform="translate(37.80 890.58) scale(0.87 1)" font-size="8.3" text-anchor="end" fill="#111">90</text>
<text transform="translate(37.80 870.20) scale(0.87 1)" font-size="8.3" text-anchor="end" fill="#111">100</text>
<text transform="translate(45.20 1084.70) scale(0.87 1)" font-size="8.3" text-anchor="middle" fill="#111">7</text>
<text transform="translate(106.00 1084.70) scale(0.87 1)" font-size="8.3" text-anchor="middle" fill="#111">8</text>
<text transform="translate(166.80 1084.70) scale(0.87 1)" font-size="8.3" text-anchor="middle" fill="#111">9</text>
<text transform="translate(227.60 1084.70) scale(0.87 1)" font-size="8.3" text-anchor="middle" fill="#111">10</text>
<text transform="translate(288.40 1084.70) scale(0.87 1)" font-size="8.3" text-anchor="middle" fill="#111">11</text>
<text x="179.60" y="864.20" font-size="12.2" text-anchor="middle" fill="#111">ON state</text>
<text x="181.90" y="1102.90" font-size="11.4" text-anchor="middle" fill="#111">Frequency (GHz)</text>
<text transform="translate(16.60 977.70) rotate(-90)" font-size="12.2" text-anchor="middle" fill="#111">Absorptivity (%)</text>
<text x="178.70" y="1123.00" font-size="19.5" font-weight="bold" style='font-family:"Liberation Serif", "Times New Roman", serif' text-anchor="middle" fill="#111">(g)</text>
<rect x="47.00" y="1012.00" width="98.90" height="59.80" fill="#8c8c8c"/>
<rect x="46.00" y="1011.00" width="98.90" height="59.80" fill="#fff" stroke="#a8a8a8" stroke-width="0.8"/>
<path d="M47.70 1019.10h27" stroke="#222222" stroke-width="0.7" opacity="0.75"/>
<rect x="59.05" y="1016.95" width="4.30" height="4.30" fill="#080808"/>
<text x="78.70" y="1023.40" font-size="12.3" fill="#111">r = 50 ohm</text>
<path d="M47.70 1034.00h27" stroke="#f53535" stroke-width="0.7" opacity="0.75"/>
<circle cx="61.20" cy="1034.00" r="2.50" fill="#f30e0e"/>
<text x="78.70" y="1038.30" font-size="12.3" fill="#111">r = 100 ohm</text>
<path d="M47.70 1048.40h27" stroke="#3030f0" stroke-width="0.7" opacity="0.75"/>
<path d="M58.15 1050.60L64.25 1050.60L61.20 1045.40Z" fill="#0808ea"/>
<text x="78.70" y="1052.70" font-size="12.3" fill="#111">r = 300 ohm</text>
<path d="M47.70 1064.00h27" stroke="#2f9494" stroke-width="0.7" opacity="0.75"/>
<path d="M58.15 1061.80L64.25 1061.80L61.20 1067.00Z" fill="#0a6c6c"/>
<text x="78.70" y="1068.30" font-size="12.3" fill="#111">r = 500 ohm</text>
</g>
<g>
<path d="M398.40 1051.62H672.00M398.40 1031.24H672.00M398.40 1010.86H672.00M398.40 990.48H672.00M398.40 970.10H672.00M398.40 949.72H672.00M398.40 929.34H672.00M398.40 908.96H672.00M398.40 888.58H672.00M459.20 868.20V1072.00M520.00 868.20V1072.00M580.80 868.20V1072.00M641.60 868.20V1072.00" stroke="#c6c6c6" stroke-width="0.75" stroke-dasharray="1.1 1.5" fill="none"/>
<path d="M398.40 868.20H672.00V1072.00" fill="none" stroke="#3a3a3a" stroke-width="1.25"/>
<path d="M398.40 867.60V1072.00H672.60" fill="none" stroke="#383838" stroke-width="1.55"/>
<clipPath id="cp7"><rect x="397.60" y="867.40" width="275.20" height="205.40"/></clipPath>
<g clip-path="url(#cp7)">
<polyline points="398.40,997.82 404.48,992.11 410.56,986.61 416.64,980.70 422.72,974.99 428.80,969.08 434.88,963.17 440.96,957.06 447.04,950.74 453.12,944.62 459.20,938.71 465.28,933.01 471.36,927.30 477.44,921.80 483.52,916.30 489.60,911.20 495.68,905.90 501.76,900.81 507.84,896.12 513.92,891.64 520.00,887.56 526.08,883.69 532.16,880.63 538.24,877.57 544.32,874.93 550.40,872.68 556.48,871.26 562.56,871.26 568.64,874.93 574.72,881.04 580.80,885.32 586.88,876.96 592.96,870.85 599.04,870.24 605.12,871.66 611.20,874.52 617.28,878.19 623.36,882.06 629.44,886.95 635.52,891.64 641.60,897.75 647.68,902.44 653.76,904.07 659.84,904.07 665.92,906.92 672.00,912.42" fill="none" stroke="#222222" stroke-width="0.65"/>
<rect x="396.25" y="995.67" width="4.30" height="4.30" fill="#080808"/>
<rect x="402.33" y="989.96" width="4.30" height="4.30" fill="#080808"/>
<rect x="408.41" y="984.46" width="4.30" height="4.30" fill="#080808"/>
<rect x="414.49" y="978.55" width="4.30" height="4.30" fill="#080808"/>
<rect x="420.57" y="972.84" width="4.30" height="4.30" fill="#080808"/>
<rect x="426.65" y="966.93" width="4.30" height="4.30" fill="#080808"/>
<rect x="432.73" y="961.02" width="4.30" height="4.30" fill="#080808"/>
<rect x="438.81" y="954.91" width="4.30" height="4.30" fill="#080808"/>
<rect x="444.89" y="948.59" width="4.30" height="4.30" fill="#080808"/>
<rect x="450.97" y="942.48" width="4.30" height="4.30" fill="#080808"/>
<rect x="457.05" y="936.56" width="4.30" height="4.30" fill="#080808"/>
<rect x="463.13" y="930.86" width="4.30" height="4.30" fill="#080808"/>
<rect x="469.21" y="925.15" width="4.30" height="4.30" fill="#080808"/>
<rect x="475.29" y="919.65" width="4.30" height="4.30" fill="#080808"/>
<rect x="481.37" y="914.15" width="4.30" height="4.30" fill="#080808"/>
<rect x="487.45" y="909.05" width="4.30" height="4.30" fill="#080808"/>
<rect x="493.53" y="903.75" width="4.30" height="4.30" fill="#080808"/>
<rect x="499.61" y="898.66" width="4.30" height="4.30" fill="#080808"/>
<rect x="505.69" y="893.97" width="4.30" height="4.30" fill="#080808"/>
<rect x="511.77" y="889.49" width="4.30" height="4.30" fill="#080808"/>
<rect x="517.85" y="885.41" width="4.30" height="4.30" fill="#080808"/>
<rect x="523.93" y="881.54" width="4.30" height="4.30" fill="#080808"/>
<rect x="530.01" y="878.48" width="4.30" height="4.30" fill="#080808"/>
<rect x="536.09" y="875.42" width="4.30" height="4.30" fill="#080808"/>
<rect x="542.17" y="872.78" width="4.30" height="4.30" fill="#080808"/>
<rect x="548.25" y="870.53" width="4.30" height="4.30" fill="#080808"/>
<rect x="554.33" y="869.11" width="4.30" height="4.30" fill="#080808"/>
<rect x="560.41" y="869.11" width="4.30" height="4.30" fill="#080808"/>
<rect x="566.49" y="872.78" width="4.30" height="4.30" fill="#080808"/>
<rect x="572.57" y="878.89" width="4.30" height="4.30" fill="#080808"/>
<rect x="578.65" y="883.17" width="4.30" height="4.30" fill="#080808"/>
<rect x="584.73" y="874.81" width="4.30" height="4.30" fill="#080808"/>
<rect x="590.81" y="868.70" width="4.30" height="4.30" fill="#080808"/>
<rect x="596.89" y="868.09" width="4.30" height="4.30" fill="#080808"/>
<rect x="602.97" y="869.51" width="4.30" height="4.30" fill="#080808"/>
<rect x="609.05" y="872.37" width="4.30" height="4.30" fill="#080808"/>
<rect x="615.13" y="876.04" width="4.30" height="4.30" fill="#080808"/>
<rect x="621.21" y="879.91" width="4.30" height="4.30" fill="#080808"/>
<rect x="627.29" y="884.80" width="4.30" height="4.30" fill="#080808"/>
<rect x="633.37" y="889.49" width="4.30" height="4.30" fill="#080808"/>
<rect x="639.45" y="895.60" width="4.30" height="4.30" fill="#080808"/>
<rect x="645.53" y="900.29" width="4.30" height="4.30" fill="#080808"/>
<rect x="651.61" y="901.92" width="4.30" height="4.30" fill="#080808"/>
<rect x="657.69" y="901.92" width="4.30" height="4.30" fill="#080808"/>
<rect x="663.77" y="904.77" width="4.30" height="4.30" fill="#080808"/>
<rect x="669.85" y="910.27" width="4.30" height="4.30" fill="#080808"/>
<polyline points="398.40,1027.78 404.48,1023.09 410.56,1017.99 416.64,1012.69 422.72,1007.40 428.80,1002.10 434.88,995.98 440.96,990.28 447.04,983.96 453.12,977.84 459.20,971.12 465.28,964.19 471.36,956.45 477.44,947.68 483.52,939.33 489.60,930.97 495.68,923.02 501.76,915.48 507.84,908.14 513.92,900.81 520.00,894.29 526.08,887.97 532.16,882.26 538.24,877.57 544.32,874.11 550.40,871.26 556.48,870.24 562.56,869.83 568.64,870.24 574.72,871.66 580.80,874.11 586.88,876.15 592.96,877.57 599.04,881.04 605.12,884.30 611.20,888.58 617.28,893.47 623.36,898.36 629.44,903.05 635.52,907.74 641.60,912.42 647.68,917.11 653.76,921.80 659.84,926.08 665.92,930.16 672.00,934.84" fill="none" stroke="#f53535" stroke-width="0.65"/>
<circle cx="398.40" cy="1027.78" r="2.50" fill="#f30e0e"/>
<circle cx="404.48" cy="1023.09" r="2.50" fill="#f30e0e"/>
<circle cx="410.56" cy="1017.99" r="2.50" fill="#f30e0e"/>
<circle cx="416.64" cy="1012.69" r="2.50" fill="#f30e0e"/>
<circle cx="422.72" cy="1007.40" r="2.50" fill="#f30e0e"/>
<circle cx="428.80" cy="1002.10" r="2.50" fill="#f30e0e"/>
<circle cx="434.88" cy="995.98" r="2.50" fill="#f30e0e"/>
<circle cx="440.96" cy="990.28" r="2.50" fill="#f30e0e"/>
<circle cx="447.04" cy="983.96" r="2.50" fill="#f30e0e"/>
<circle cx="453.12" cy="977.84" r="2.50" fill="#f30e0e"/>
<circle cx="459.20" cy="971.12" r="2.50" fill="#f30e0e"/>
<circle cx="465.28" cy="964.19" r="2.50" fill="#f30e0e"/>
<circle cx="471.36" cy="956.45" r="2.50" fill="#f30e0e"/>
<circle cx="477.44" cy="947.68" r="2.50" fill="#f30e0e"/>
<circle cx="483.52" cy="939.33" r="2.50" fill="#f30e0e"/>
<circle cx="489.60" cy="930.97" r="2.50" fill="#f30e0e"/>
<circle cx="495.68" cy="923.02" r="2.50" fill="#f30e0e"/>
<circle cx="501.76" cy="915.48" r="2.50" fill="#f30e0e"/>
<circle cx="507.84" cy="908.14" r="2.50" fill="#f30e0e"/>
<circle cx="513.92" cy="900.81" r="2.50" fill="#f30e0e"/>
<circle cx="520.00" cy="894.29" r="2.50" fill="#f30e0e"/>
<circle cx="526.08" cy="887.97" r="2.50" fill="#f30e0e"/>
<circle cx="532.16" cy="882.26" r="2.50" fill="#f30e0e"/>
<circle cx="538.24" cy="877.57" r="2.50" fill="#f30e0e"/>
<circle cx="544.32" cy="874.11" r="2.50" fill="#f30e0e"/>
<circle cx="550.40" cy="871.26" r="2.50" fill="#f30e0e"/>
<circle cx="556.48" cy="870.24" r="2.50" fill="#f30e0e"/>
<circle cx="562.56" cy="869.83" r="2.50" fill="#f30e0e"/>
<circle cx="568.64" cy="870.24" r="2.50" fill="#f30e0e"/>
<circle cx="574.72" cy="871.66" r="2.50" fill="#f30e0e"/>
<circle cx="580.80" cy="874.11" r="2.50" fill="#f30e0e"/>
<circle cx="586.88" cy="876.15" r="2.50" fill="#f30e0e"/>
<circle cx="592.96" cy="877.57" r="2.50" fill="#f30e0e"/>
<circle cx="599.04" cy="881.04" r="2.50" fill="#f30e0e"/>
<circle cx="605.12" cy="884.30" r="2.50" fill="#f30e0e"/>
<circle cx="611.20" cy="888.58" r="2.50" fill="#f30e0e"/>
<circle cx="617.28" cy="893.47" r="2.50" fill="#f30e0e"/>
<circle cx="623.36" cy="898.36" r="2.50" fill="#f30e0e"/>
<circle cx="629.44" cy="903.05" r="2.50" fill="#f30e0e"/>
<circle cx="635.52" cy="907.74" r="2.50" fill="#f30e0e"/>
<circle cx="641.60" cy="912.42" r="2.50" fill="#f30e0e"/>
<circle cx="647.68" cy="917.11" r="2.50" fill="#f30e0e"/>
<circle cx="653.76" cy="921.80" r="2.50" fill="#f30e0e"/>
<circle cx="659.84" cy="926.08" r="2.50" fill="#f30e0e"/>
<circle cx="665.92" cy="930.16" r="2.50" fill="#f30e0e"/>
<circle cx="672.00" cy="934.84" r="2.50" fill="#f30e0e"/>
<polyline points="398.40,1052.23 404.48,1049.58 410.56,1046.53 416.64,1043.47 422.72,1040.00 428.80,1036.34 434.88,1032.67 440.96,1028.79 447.04,1024.72 453.12,1020.64 459.20,1015.96 465.28,1010.86 471.36,1006.17 477.44,999.85 483.52,992.52 489.60,985.38 495.68,977.44 501.76,970.10 507.84,961.54 513.92,953.39 520.00,945.44 526.08,937.08 532.16,928.73 538.24,922.61 544.32,916.30 550.40,910.79 556.48,905.50 562.56,900.40 568.64,894.49 574.72,883.28 580.80,870.65 586.88,876.56 592.96,898.77 599.04,915.48 605.12,926.28 611.20,934.64 617.28,941.36 623.36,947.68 629.44,953.39 635.52,958.69 641.60,963.37 647.68,967.86 653.76,971.73 659.84,975.20 665.92,978.05 672.00,980.90" fill="none" stroke="#3030f0" stroke-width="0.65"/>
<path d="M395.35 1054.43L401.45 1054.43L398.40 1049.23Z" fill="#0808ea"/>
<path d="M401.43 1051.78L407.53 1051.78L404.48 1046.58Z" fill="#0808ea"/>
<path d="M407.51 1048.73L413.61 1048.73L410.56 1043.53Z" fill="#0808ea"/>
<path d="M413.59 1045.67L419.69 1045.67L416.64 1040.47Z" fill="#0808ea"/>
<path d="M419.67 1042.20L425.77 1042.20L422.72 1037.00Z" fill="#0808ea"/>
<path d="M425.75 1038.54L431.85 1038.54L428.80 1033.34Z" fill="#0808ea"/>
<path d="M431.83 1034.87L437.93 1034.87L434.88 1029.67Z" fill="#0808ea"/>
<path d="M437.91 1030.99L444.01 1030.99L440.96 1025.79Z" fill="#0808ea"/>
<path d="M443.99 1026.92L450.09 1026.92L447.04 1021.72Z" fill="#0808ea"/>
<path d="M450.07 1022.84L456.17 1022.84L453.12 1017.64Z" fill="#0808ea"/>
<path d="M456.15 1018.16L462.25 1018.16L459.20 1012.96Z" fill="#0808ea"/>
<path d="M462.23 1013.06L468.33 1013.06L465.28 1007.86Z" fill="#0808ea"/>
<path d="M468.31 1008.37L474.41 1008.37L471.36 1003.17Z" fill="#0808ea"/>
<path d="M474.39 1002.05L480.49 1002.05L477.44 996.85Z" fill="#0808ea"/>
<path d="M480.47 994.72L486.57 994.72L483.52 989.52Z" fill="#0808ea"/>
<path d="M486.55 987.59L492.65 987.59L489.60 982.38Z" fill="#0808ea"/>
<path d="M492.63 979.64L498.73 979.64L495.68 974.44Z" fill="#0808ea"/>
<path d="M498.71 972.30L504.81 972.30L501.76 967.10Z" fill="#0808ea"/>
<path d="M504.79 963.74L510.89 963.74L507.84 958.54Z" fill="#0808ea"/>
<path d="M510.87 955.59L516.97 955.59L513.92 950.39Z" fill="#0808ea"/>
<path d="M516.95 947.64L523.05 947.64L520.00 942.44Z" fill="#0808ea"/>
<path d="M523.03 939.28L529.13 939.28L526.08 934.08Z" fill="#0808ea"/>
<path d="M529.11 930.93L535.21 930.93L532.16 925.73Z" fill="#0808ea"/>
<path d="M535.19 924.81L541.29 924.81L538.24 919.61Z" fill="#0808ea"/>
<path d="M541.27 918.50L547.37 918.50L544.32 913.30Z" fill="#0808ea"/>
<path d="M547.35 912.99L553.45 912.99L550.40 907.79Z" fill="#0808ea"/>
<path d="M553.43 907.70L559.53 907.70L556.48 902.50Z" fill="#0808ea"/>
<path d="M559.51 902.60L565.61 902.60L562.56 897.40Z" fill="#0808ea"/>
<path d="M565.59 896.69L571.69 896.69L568.64 891.49Z" fill="#0808ea"/>
<path d="M571.67 885.48L577.77 885.48L574.72 880.28Z" fill="#0808ea"/>
<path d="M577.75 872.85L583.85 872.85L580.80 867.65Z" fill="#0808ea"/>
<path d="M583.83 878.76L589.93 878.76L586.88 873.56Z" fill="#0808ea"/>
<path d="M589.91 900.97L596.01 900.97L592.96 895.77Z" fill="#0808ea"/>
<path d="M595.99 917.68L602.09 917.68L599.04 912.48Z" fill="#0808ea"/>
<path d="M602.07 928.48L608.17 928.48L605.12 923.28Z" fill="#0808ea"/>
<path d="M608.15 936.84L614.25 936.84L611.20 931.64Z" fill="#0808ea"/>
<path d="M614.23 943.56L620.33 943.56L617.28 938.36Z" fill="#0808ea"/>
<path d="M620.31 949.88L626.41 949.88L623.36 944.68Z" fill="#0808ea"/>
<path d="M626.39 955.59L632.49 955.59L629.44 950.39Z" fill="#0808ea"/>
<path d="M632.47 960.89L638.57 960.89L635.52 955.69Z" fill="#0808ea"/>
<path d="M638.55 965.57L644.65 965.57L641.60 960.37Z" fill="#0808ea"/>
<path d="M644.63 970.06L650.73 970.06L647.68 964.86Z" fill="#0808ea"/>
<path d="M650.71 973.93L656.81 973.93L653.76 968.73Z" fill="#0808ea"/>
<path d="M656.79 977.40L662.89 977.40L659.84 972.20Z" fill="#0808ea"/>
<path d="M662.87 980.25L668.97 980.25L665.92 975.05Z" fill="#0808ea"/>
<path d="M668.95 983.10L675.05 983.10L672.00 977.90Z" fill="#0808ea"/>
<polyline points="398.40,1061.81 404.48,1059.77 410.56,1057.33 416.64,1054.68 422.72,1051.62 428.80,1048.56 434.88,1045.10 440.96,1041.43 447.04,1037.35 453.12,1033.28 459.20,1029.20 465.28,1025.13 471.36,1020.64 477.44,1015.96 483.52,1010.86 489.60,1006.38 495.68,1000.47 501.76,993.74 507.84,987.02 513.92,979.47 520.00,971.93 526.08,964.39 532.16,957.06 538.24,950.54 544.32,944.42 550.40,938.10 556.48,931.99 562.56,925.26 568.64,916.30 574.72,899.38 580.80,874.93 586.88,876.15 592.96,906.11 599.04,929.75 605.12,945.64 611.20,956.45 617.28,964.39 623.36,971.32 629.44,977.03 635.52,982.53 641.60,987.02 647.68,990.68 653.76,994.35 659.84,996.80 665.92,999.04 672.00,1000.87" fill="none" stroke="#2f9494" stroke-width="0.65"/>
<path d="M395.35 1059.61L401.45 1059.61L398.40 1064.81Z" fill="#0a6c6c"/>
<path d="M401.43 1057.57L407.53 1057.57L404.48 1062.77Z" fill="#0a6c6c"/>
<path d="M407.51 1055.13L413.61 1055.13L410.56 1060.33Z" fill="#0a6c6c"/>
<path d="M413.59 1052.48L419.69 1052.48L416.64 1057.68Z" fill="#0a6c6c"/>
<path d="M419.67 1049.42L425.77 1049.42L422.72 1054.62Z" fill="#0a6c6c"/>
<path d="M425.75 1046.36L431.85 1046.36L428.80 1051.56Z" fill="#0a6c6c"/>
<path d="M431.83 1042.90L437.93 1042.90L434.88 1048.10Z" fill="#0a6c6c"/>
<path d="M437.91 1039.23L444.01 1039.23L440.96 1044.43Z" fill="#0a6c6c"/>
<path d="M443.99 1035.15L450.09 1035.15L447.04 1040.35Z" fill="#0a6c6c"/>
<path d="M450.07 1031.08L456.17 1031.08L453.12 1036.28Z" fill="#0a6c6c"/>
<path d="M456.15 1027.00L462.25 1027.00L459.20 1032.20Z" fill="#0a6c6c"/>
<path d="M462.23 1022.93L468.33 1022.93L465.28 1028.13Z" fill="#0a6c6c"/>
<path d="M468.31 1018.44L474.41 1018.44L471.36 1023.64Z" fill="#0a6c6c"/>
<path d="M474.39 1013.75L480.49 1013.75L477.44 1018.96Z" fill="#0a6c6c"/>
<path d="M480.47 1008.66L486.57 1008.66L483.52 1013.86Z" fill="#0a6c6c"/>
<path d="M486.55 1004.18L492.65 1004.18L489.60 1009.38Z" fill="#0a6c6c"/>
<path d="M492.63 998.27L498.73 998.27L495.68 1003.47Z" fill="#0a6c6c"/>
<path d="M498.71 991.54L504.81 991.54L501.76 996.74Z" fill="#0a6c6c"/>
<path d="M504.79 984.82L510.89 984.82L507.84 990.02Z" fill="#0a6c6c"/>
<path d="M510.87 977.27L516.97 977.27L513.92 982.47Z" fill="#0a6c6c"/>
<path d="M516.95 969.73L523.05 969.73L520.00 974.93Z" fill="#0a6c6c"/>
<path d="M523.03 962.19L529.13 962.19L526.08 967.39Z" fill="#0a6c6c"/>
<path d="M529.11 954.86L535.21 954.86L532.16 960.06Z" fill="#0a6c6c"/>
<path d="M535.19 948.34L541.29 948.34L538.24 953.54Z" fill="#0a6c6c"/>
<path d="M541.27 942.22L547.37 942.22L544.32 947.42Z" fill="#0a6c6c"/>
<path d="M547.35 935.90L553.45 935.90L550.40 941.10Z" fill="#0a6c6c"/>
<path d="M553.43 929.79L559.53 929.79L556.48 934.99Z" fill="#0a6c6c"/>
<path d="M559.51 923.06L565.61 923.06L562.56 928.26Z" fill="#0a6c6c"/>
<path d="M565.59 914.10L571.69 914.10L568.64 919.30Z" fill="#0a6c6c"/>
<path d="M571.67 897.18L577.77 897.18L574.72 902.38Z" fill="#0a6c6c"/>
<path d="M577.75 872.73L583.85 872.73L580.80 877.93Z" fill="#0a6c6c"/>
<path d="M583.83 873.95L589.93 873.95L586.88 879.15Z" fill="#0a6c6c"/>
<path d="M589.91 903.91L596.01 903.91L592.96 909.11Z" fill="#0a6c6c"/>
<path d="M595.99 927.55L602.09 927.55L599.04 932.75Z" fill="#0a6c6c"/>
<path d="M602.07 943.44L608.17 943.44L605.12 948.64Z" fill="#0a6c6c"/>
<path d="M608.15 954.25L614.25 954.25L611.20 959.45Z" fill="#0a6c6c"/>
<path d="M614.23 962.19L620.33 962.19L617.28 967.39Z" fill="#0a6c6c"/>
<path d="M620.31 969.12L626.41 969.12L623.36 974.32Z" fill="#0a6c6c"/>
<path d="M626.39 974.83L632.49 974.83L629.44 980.03Z" fill="#0a6c6c"/>
<path d="M632.47 980.33L638.57 980.33L635.52 985.53Z" fill="#0a6c6c"/>
<path d="M638.55 984.82L644.65 984.82L641.60 990.02Z" fill="#0a6c6c"/>
<path d="M644.63 988.48L650.73 988.48L647.68 993.68Z" fill="#0a6c6c"/>
<path d="M650.71 992.15L656.81 992.15L653.76 997.35Z" fill="#0a6c6c"/>
<path d="M656.79 994.60L662.89 994.60L659.84 999.80Z" fill="#0a6c6c"/>
<path d="M662.87 996.84L668.97 996.84L665.92 1002.04Z" fill="#0a6c6c"/>
<path d="M668.95 998.67L675.05 998.67L672.00 1003.87Z" fill="#0a6c6c"/>
</g>
<path d="M398.40 1072.00h-3.8M398.40 1061.81h-2.0M398.40 1051.62h-3.8M398.40 1041.43h-2.0M398.40 1031.24h-3.8M398.40 1021.05h-2.0M398.40 1010.86h-3.8M398.40 1000.67h-2.0M398.40 990.48h-3.8M398.40 980.29h-2.0M398.40 970.10h-3.8M398.40 959.91h-2.0M398.40 949.72h-3.8M398.40 939.53h-2.0M398.40 929.34h-3.8M398.40 919.15h-2.0M398.40 908.96h-3.8M398.40 898.77h-2.0M398.40 888.58h-3.8M398.40 878.39h-2.0M398.40 868.20h-3.8M398.40 1072.00v3.8M428.80 1072.00v2.0M459.20 1072.00v3.8M489.60 1072.00v2.0M520.00 1072.00v3.8M550.40 1072.00v2.0M580.80 1072.00v3.8M611.20 1072.00v2.0M641.60 1072.00v3.8M672.00 1072.00v2.0" stroke="#383838" stroke-width="1.3" fill="none"/>
<text transform="translate(391.00 1074.00) scale(0.87 1)" font-size="8.3" text-anchor="end" fill="#111">0</text>
<text transform="translate(391.00 1053.62) scale(0.87 1)" font-size="8.3" text-anchor="end" fill="#111">10</text>
<text transform="translate(391.00 1033.24) scale(0.87 1)" font-size="8.3" text-anchor="end" fill="#111">20</text>
<text transform="translate(391.00 1012.86) scale(0.87 1)" font-size="8.3" text-anchor="end" fill="#111">30</text>
<text transform="translate(391.00 992.48) scale(0.87 1)" font-size="8.3" text-anchor="end" fill="#111">40</text>
<text transform="translate(391.00 972.10) scale(0.87 1)" font-size="8.3" text-anchor="end" fill="#111">50</text>
<text transform="translate(391.00 951.72) scale(0.87 1)" font-size="8.3" text-anchor="end" fill="#111">60</text>
<text transform="translate(391.00 931.34) scale(0.87 1)" font-size="8.3" text-anchor="end" fill="#111">70</text>
<text transform="translate(391.00 910.96) scale(0.87 1)" font-size="8.3" text-anchor="end" fill="#111">80</text>
<text transform="translate(391.00 890.58) scale(0.87 1)" font-size="8.3" text-anchor="end" fill="#111">90</text>
<text transform="translate(391.00 870.20) scale(0.87 1)" font-size="8.3" text-anchor="end" fill="#111">100</text>
<text transform="translate(398.40 1084.70) scale(0.87 1)" font-size="8.3" text-anchor="middle" fill="#111">7</text>
<text transform="translate(459.20 1084.70) scale(0.87 1)" font-size="8.3" text-anchor="middle" fill="#111">8</text>
<text transform="translate(520.00 1084.70) scale(0.87 1)" font-size="8.3" text-anchor="middle" fill="#111">9</text>
<text transform="translate(580.80 1084.70) scale(0.87 1)" font-size="8.3" text-anchor="middle" fill="#111">10</text>
<text transform="translate(641.60 1084.70) scale(0.87 1)" font-size="8.3" text-anchor="middle" fill="#111">11</text>
<text x="532.90" y="864.20" font-size="12.2" text-anchor="middle" fill="#111">OFF state</text>
<text x="535.00" y="1102.90" font-size="11.4" text-anchor="middle" fill="#111">Frequency (GHz)</text>
<text transform="translate(369.80 977.70) rotate(-90)" font-size="12.2" text-anchor="middle" fill="#111">Absorptivity (%)</text>
<text x="533.80" y="1123.00" font-size="19.5" font-weight="bold" style='font-family:"Liberation Serif", "Times New Roman", serif' text-anchor="middle" fill="#111">(h)</text>
<rect x="400.00" y="1012.00" width="98.90" height="59.80" fill="#8c8c8c"/>
<rect x="399.00" y="1011.00" width="98.90" height="59.80" fill="#fff" stroke="#a8a8a8" stroke-width="0.8"/>
<path d="M400.70 1019.10h27" stroke="#222222" stroke-width="0.7" opacity="0.75"/>
<rect x="412.05" y="1016.95" width="4.30" height="4.30" fill="#080808"/>
<text x="431.70" y="1023.40" font-size="12.3" fill="#111">r = 50 ohm</text>
<path d="M400.70 1034.00h27" stroke="#f53535" stroke-width="0.7" opacity="0.75"/>
<circle cx="414.20" cy="1034.00" r="2.50" fill="#f30e0e"/>
<text x="431.70" y="1038.30" font-size="12.3" fill="#111">r = 100 ohm</text>
<path d="M400.70 1048.40h27" stroke="#3030f0" stroke-width="0.7" opacity="0.75"/>
<path d="M411.15 1050.60L417.25 1050.60L414.20 1045.40Z" fill="#0808ea"/>
<text x="431.70" y="1052.70" font-size="12.3" fill="#111">r = 300 ohm</text>
<path d="M400.70 1064.00h27" stroke="#2f9494" stroke-width="0.7" opacity="0.75"/>
<path d="M411.15 1061.80L417.25 1061.80L414.20 1067.00Z" fill="#0a6c6c"/>
<text x="431.70" y="1068.30" font-size="12.3" fill="#111">r = 500 ohm</text>
</g>
</svg>
</body></html>
